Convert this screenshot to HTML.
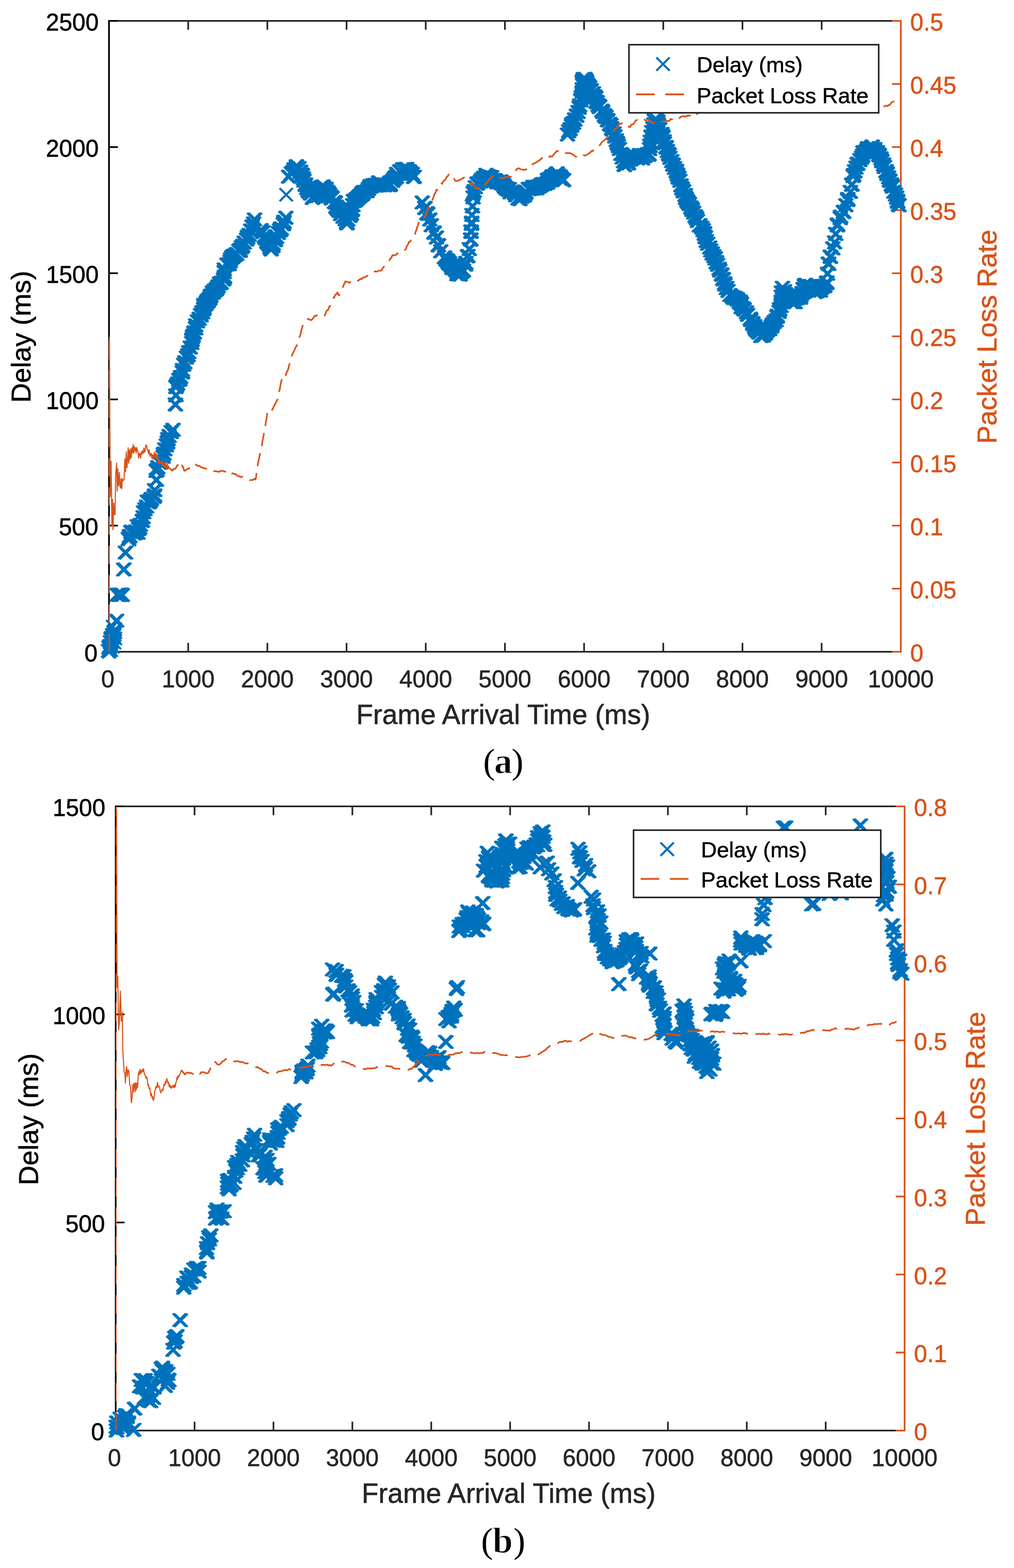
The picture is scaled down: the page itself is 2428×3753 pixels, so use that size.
<!DOCTYPE html>
<html lang="en"><head><meta charset="utf-8"><title>Delay and Packet Loss Rate vs Frame Arrival Time</title>
<style>html,body{margin:0;padding:0;background:#fff}svg{display:block}</style></head><body>
<svg width="2428" height="3753" viewBox="0 0 2428 3753">
<rect width="2428" height="3753" fill="#fff"/>
<defs>
<marker id="mx" viewBox="-20 -20 40 40" markerWidth="40" markerHeight="40" refX="0" refY="0" markerUnits="userSpaceOnUse" orient="0" overflow="visible"><path d="M-15.75 -15.75L15.75 15.75M-15.75 15.75L15.75 -15.75" stroke="#0072BD" stroke-width="5.2" fill="none"/></marker>
<clipPath id="clipa"><rect x="231" y="48.5" width="1956" height="1540"/></clipPath>
<clipPath id="clipb"><rect x="247" y="1928.5" width="1949" height="1524"/></clipPath>
</defs>
<g id="plot-a">
<path d="M259 50H2159M259 1560H2159" stroke="#262626" stroke-width="4" fill="none"/>
<path d="M450.6 1560v-21.2M450.6 50v21.2M640.2 1560v-21.2M640.2 50v21.2M829.8 1560v-21.2M829.8 50v21.2M1019.4 1560v-21.2M1019.4 50v21.2M1209 1560v-21.2M1209 50v21.2M1398.6 1560v-21.2M1398.6 50v21.2M1588.2 1560v-21.2M1588.2 50v21.2M1777.8 1560v-21.2M1777.8 50v21.2M1967.4 1560v-21.2M1967.4 50v21.2" stroke="#262626" stroke-width="4" fill="none"/>
<path d="M261 48V1562M261 1560h21.2M261 1258h21.2M261 956h21.2M261 654h21.2M261 352h21.2M261 50h21.2" stroke="#000" stroke-width="4" fill="none"/>
<path d="M2157 48V1562M2157 1560h-21.2M2157 1409h-21.2M2157 1258h-21.2M2157 1107h-21.2M2157 956h-21.2M2157 805h-21.2M2157 654h-21.2M2157 503h-21.2M2157 352h-21.2M2157 201h-21.2M2157 50h-21.2" stroke="#D95319" stroke-width="4" fill="none"/>
<g font-family="'Liberation Sans', Arial, Helvetica, sans-serif" font-size="56.8px" stroke-width="0.8" stroke-linejoin="round">
<g fill="#262626" stroke="#262626" text-anchor="middle">
<text x="258" y="1645">0</text>
<text x="450.6" y="1645">1000</text>
<text x="640.2" y="1645">2000</text>
<text x="829.8" y="1645">3000</text>
<text x="1019.4" y="1645">4000</text>
<text x="1209" y="1645">5000</text>
<text x="1398.6" y="1645">6000</text>
<text x="1588.2" y="1645">7000</text>
<text x="1777.8" y="1645">8000</text>
<text x="1967.4" y="1645">9000</text>
<text x="2157" y="1645">10000</text>
</g>
<g fill="#000" stroke="#000" text-anchor="end">
<text x="233.6" y="1583">0</text>
<text x="235.4" y="1281">500</text>
<text x="236.3" y="979">1000</text>
<text x="236.3" y="677">1500</text>
<text x="236.3" y="375">2000</text>
<text x="236.3" y="73">2500</text>
</g>
<g fill="#D95319" stroke="#D95319" text-anchor="start">
<text x="2179.6" y="1583">0</text>
<text x="2179.6" y="1432">0.05</text>
<text x="2179.6" y="1281">0.1</text>
<text x="2179.6" y="1130">0.15</text>
<text x="2179.6" y="979">0.2</text>
<text x="2179.6" y="828">0.25</text>
<text x="2179.6" y="677">0.3</text>
<text x="2179.6" y="526">0.35</text>
<text x="2179.6" y="375">0.4</text>
<text x="2179.6" y="224">0.45</text>
<text x="2179.6" y="73">0.5</text>
</g>
</g>
<g font-family="'Liberation Sans', Arial, Helvetica, sans-serif" font-size="66px" text-anchor="middle" stroke-width="0.8" stroke-linejoin="round">
<text x="1205" y="1733" fill="#262626" stroke="#262626">Frame Arrival Time (ms)</text>
<text transform="translate(73 806) rotate(-90)" font-size="65.4px" fill="#000" stroke="#000">Delay (ms)</text>
<text transform="translate(2386 806) rotate(-90)" font-size="65.4px" fill="#D95319" stroke="#D95319">Packet Loss Rate</text>
</g>
<g clip-path="url(#clipa)">
<polyline points="261,1560 258.2,1557.8 261.8,1557.8 260.8,1546.7 264.4,1546.7 259.3,1550.3 262.9,1550.3 262.6,1537 266.2,1537 265.1,1528 268.7,1528 265.1,1526.9 268.7,1526.9 270.7,1519.2 274.3,1519.2 269.3,1522.5 272.9,1522.5 271.2,1513.6 274.8,1513.6 272.2,1512.4 275.8,1512.4 305.6,1289.8 309.2,1289.8 306.4,1290.9 310,1290.9 308.9,1282.5 312.5,1282.5 308.2,1284.7 311.8,1284.7 311.6,1273.3 315.2,1273.3 313,1272.5 316.6,1272.5 319.7,1276.9 323.3,1276.9 322.9,1272 326.5,1272 323.3,1274.7 326.9,1274.7 328.5,1275.1 332.1,1275.1 327,1259.3 330.6,1259.3 330.3,1266.7 333.9,1266.7 332.4,1263 336,1263 332.3,1262.4 335.9,1262.4 334.3,1256.2 337.9,1256.2 339.5,1246.2 343.1,1246.2 338.8,1247 342.4,1247 341,1237.9 344.6,1237.9 342.1,1226.1 345.7,1226.1 345.3,1218.8 348.9,1218.8 349.1,1212.3 352.7,1212.3 351,1200.6 354.6,1200.6 354.8,1202.5 358.4,1202.5 356.5,1201.4 360.1,1201.4 358.8,1197.5 362.4,1197.5 360.7,1194.1 364.3,1194.1 367.5,1189.2 371.1,1189.2 368.5,1185.7 372.1,1185.7 368.6,1173.2 372.2,1173.2 374.2,1124.8 377.8,1124.8 372.1,1127.2 375.7,1127.2 376.1,1118.4 379.7,1118.4 380.9,1107.9 384.5,1107.9 383.1,1103.3 386.7,1103.3 388.7,1093.5 392.3,1093.5 390.8,1085.5 394.4,1085.5 389.4,1088 393,1088 392.9,1075.5 396.5,1075.5 396.5,1066.1 400.1,1066.1 398.7,1059.8 402.3,1059.8 399.6,1057.8 403.2,1057.8 400.7,1050.9 404.3,1050.9 399.8,1051.2 403.4,1051.2 403,1043.7 406.6,1043.7 408.1,1034.2 411.7,1034.2 412.6,1028.7 416.2,1028.7 419.2,926.5 422.8,926.5 421.1,922.6 424.7,922.6 423.6,917.9 427.2,917.9 426.4,909.6 430,909.6 428.9,907.3 432.5,907.3 430.8,902.1 434.4,902.1 434.7,891.5 438.3,891.5 435.3,891 438.9,891 435,885.5 438.6,885.5 438.1,872.8 441.7,872.8 440.7,867.1 444.3,867.1 444.5,855.8 448.1,855.8 448.8,850 452.4,850 447.9,850.4 451.5,850.4 450.1,842.9 453.7,842.9 453.8,831.8 457.4,831.8 457.3,820.8 460.9,820.8 457.5,814.9 461.1,814.9 457.8,812.5 461.4,812.5 461,803 464.6,803 459,806.8 462.6,806.8 463.5,795.6 467.1,795.6 462.3,796.7 465.9,796.7 466.3,785.3 469.9,785.3 466.5,786.2 470.1,786.2 466.8,778.7 470.4,778.7 471,769.2 474.6,769.2 475.2,762.8 478.8,762.8 478.5,753.9 482.1,753.9 479.9,754.9 483.5,754.9 481.4,747.6 485,747.6 483.2,747.4 486.8,747.4 486.9,736.9 490.5,736.9 485.8,740.7 489.4,740.7 486.7,732.3 490.3,732.3 486.3,729.8 489.9,729.8 491.3,727.8 494.9,727.8 492.2,724.4 495.8,724.4 496.2,721.2 499.8,721.2 494.3,720.2 497.9,720.2 500.6,714.3 504.2,714.3 497.8,717.3 501.4,717.3 501.5,710 505.1,710 503.2,707.1 506.8,707.1 506.7,700.4 510.3,700.4 507.9,700.7 511.5,700.7 511.5,696.3 515.1,696.3 511.5,695.7 515.1,695.7 517.5,690.2 521.1,690.2 516.1,692.7 519.7,692.7 520.5,685.3 524.1,685.3 523.8,678.9 527.4,678.9 527.8,676.6 531.4,676.6 533.4,668.8 537,668.8 535.4,664.6 539,664.6 535.8,661.9 539.4,661.9 534.9,651.2 538.5,651.2 535.1,644.9 538.7,644.9 541.7,633.1 545.3,633.1 546.8,632.4 550.4,632.4 549.2,626.2 552.8,626.2 550.3,620.7 553.9,620.7 553.2,615.4 556.8,615.4 555.4,615.7 559,615.7 556.5,612.7 560.1,612.7 560.2,611.2 563.8,611.2 565.1,607.9 568.7,607.9 570.2,600.3 573.8,600.3 572.8,597.8 576.4,597.8 573.2,600.5 576.8,600.5 576.2,592.1 579.8,592.1 579.6,588.3 583.2,588.3 582.9,580.7 586.5,580.7 588.5,573.5 592.1,573.5 591.3,568.9 594.9,568.9 590.7,566.9 594.3,566.9 594.7,562 598.3,562 598.6,551.8 602.2,551.8 598.9,551.9 602.5,551.9 602,541.9 605.6,541.9 602,542.3 605.6,542.3 605.5,534.9 609.1,534.9 607.8,525.4 611.4,525.4 623.3,550.6 626.9,550.6 627.9,555.7 631.5,555.7 631.3,565.3 634.9,565.3 633.7,569.3 637.3,569.3 634.3,570.9 637.9,570.9 637.5,576.5 641.1,576.5 637.3,579.3 640.9,579.3 641.2,583.3 644.8,583.3 643.7,586.3 647.3,586.3 646.9,594.7 650.5,594.7 644.5,592 648.1,592 647.2,597.2 650.8,597.2 651.1,589.4 654.7,589.4 651.5,588.4 655.1,588.4 652.4,583.4 656,583.4 651.8,583.7 655.4,583.7 657.2,575.1 660.8,575.1 657.6,572.6 661.2,572.6 660.5,567 664.1,567 664.7,557.5 668.3,557.5 669.2,551.5 672.8,551.5 667.7,551.1 671.3,551.1 670.2,546.9 673.8,546.9 671.8,547.6 675.4,547.6 676.6,536.9 680.2,536.9 678.1,530.5 681.7,530.5 678,532.7 681.6,532.7 682.7,521.2 686.3,521.2 689.3,422.9 692.9,422.9 695.9,415 699.5,415 699,412.3 702.6,412.3 700.4,410.5 704,410.5 703.6,405.1 707.2,405.1 702.4,405 706,405 708.2,400 711.8,400 708.1,397.7 711.7,397.7 714,402.3 717.6,402.3 717.7,410.5 721.3,410.5 717.8,412.1 721.4,412.1 721.3,417.9 724.9,417.9 722.1,420.6 725.7,420.6 724.9,427 728.5,427 726.2,432.3 729.8,432.3 729.3,440.9 732.9,440.9 729.6,443.1 733.2,443.1 732.7,450.2 736.3,450.2 733.7,450.8 737.3,450.8 739.3,459.7 742.9,459.7 736.1,456.6 739.7,456.6 742.1,463.4 745.7,463.4 746.4,473.8 750,473.8 748,470.8 751.6,470.8 751.7,470.1 755.3,470.1 752.6,469.3 756.2,469.3 757.9,469.4 761.5,469.4 756.8,468 760.4,468 760.7,466.2 764.3,466.2 758.4,465.8 762,465.8 760.2,463.7 763.8,463.7 765.5,460.9 769.1,460.9 766.7,459.4 770.3,459.4 767.8,447.8 771.4,447.8 769.2,452.9 772.8,452.9 774.3,449.9 777.9,449.9 771.6,446 775.2,446 779.2,452 782.8,452 781.5,458.4 785.1,458.4 783.6,460.9 787.2,460.9 787,464.8 790.6,464.8 790.5,470.1 794.1,470.1 790.9,472.5 794.5,472.5 793.3,473.7 796.9,473.7 791.9,475.2 795.5,475.2 799.1,483.3 802.7,483.3 801.4,485.2 805,485.2 803,496.1 806.6,496.1 802.6,494.2 806.2,494.2 805.9,498.1 809.5,498.1 806.6,500.4 810.2,500.4 809.3,503.3 812.9,503.3 811.6,505.1 815.2,505.1 813.8,512.4 817.4,512.4 819.5,519 823.1,519 824.7,524.9 828.3,524.9 828,531.3 831.6,531.3 829.4,534.1 833,534.1 828.5,534.5 832.1,534.5 830.8,525.9 834.4,525.9 830.6,525.4 834.2,525.4 835.9,517 839.5,517 839.4,510.7 843,510.7 838.8,512.6 842.4,512.6 842.2,500.8 845.8,500.8 840.9,503.6 844.5,503.6 843.1,490.8 846.7,490.8 843,491.1 846.6,491.1 845.2,480.6 848.8,480.6 844.6,481.4 848.2,481.4 847.9,480.3 851.5,480.3 851.6,476.7 855.2,476.7 852.1,476.3 855.7,476.3 856.3,472.3 859.9,472.3 863.1,466.6 866.7,466.6 860,468.8 863.6,468.8 864.8,463.2 868.4,463.2 866.2,464.4 869.8,464.4 868.3,459.6 871.9,459.6 868.6,459.8 872.2,459.8 877.1,457.6 880.7,457.6 880.2,452.3 883.8,452.3 883.4,447.5 887,447.5 885.2,445 888.8,445 887.2,446.2 890.8,446.2 891.3,443.1 894.9,443.1 898.3,444.4 901.9,444.4 896.2,442.3 899.8,442.3 902.5,443.2 906.1,443.2 902.5,442.7 906.1,442.7 904.7,436.6 908.3,436.6 909.9,442.1 913.5,442.1 909,440.2 912.6,440.2 906.4,436.9 910,436.9 909.6,443.4 913.2,443.4 907.3,441.6 910.9,441.6 915.4,441 919,441 918.5,443.6 922.1,443.6 919.1,443.2 922.7,443.2 920.3,441.8 923.9,441.8 928.7,443.1 932.3,443.1 932,443.2 935.6,443.2 932.8,440.7 936.4,440.7 932.7,440.6 936.3,440.6 938.3,432.8 941.9,432.8 941.7,428.2 945.3,428.2 943.5,426 947.1,426 947,422.9 950.6,422.9 946.9,423.3 950.5,423.3 947.9,416.1 951.5,416.1 955.7,410.3 959.3,410.3 955.8,409.7 959.4,409.7 962.4,404.8 966,404.8 967.6,404.5 971.2,404.5 972.1,404.2 975.7,404.2 971.7,408.1 975.3,408.1 977.8,409.3 981.4,409.3 975.6,411.6 979.2,411.6 980,412.4 983.6,412.4 981.6,415.7 985.2,415.7 985.5,416.1 989.1,416.1 988.5,423.9 992.1,423.9 990.1,423 993.7,423 1009.4,484.6 1013,484.6 1015.6,498.1 1019.2,498.1 1015.5,497.7 1019.1,497.7 1020.5,510.2 1024.1,510.2 1022.5,512.1 1026.1,512.1 1027.5,525.4 1031.1,525.4 1030.9,539.2 1034.5,539.2 1037.6,557.3 1041.2,557.3 1037.4,556.1 1041,556.1 1043.3,568.3 1046.9,568.3 1047.5,586.7 1051.1,586.7 1048.3,587.3 1051.9,587.3 1053.7,601.5 1057.3,601.5 1062.4,615.9 1066,615.9 1065.9,621.2 1069.5,621.2 1069.8,623.9 1073.4,623.9 1071.1,627.4 1074.7,627.4 1071.6,627.2 1075.2,627.2 1073.4,631.2 1077,631.2 1074.6,629.8 1078.2,629.8 1080.8,638.4 1084.4,638.4 1078.4,635.3 1082,635.3 1080.6,641.1 1084.2,641.1 1082.5,641.6 1086.1,641.6 1088.9,646.1 1092.5,646.1 1092.6,651.5 1096.2,651.5 1092.4,656.5 1096,656.5 1096.1,656 1099.7,656 1099.9,657.3 1103.5,657.3 1102.9,651.5 1106.5,651.5 1102.1,651.5 1105.7,651.5 1107,647.6 1110.6,647.6 1108,647.4 1111.6,647.4 1113,633.6 1116.6,633.6 1113.7,629.2 1117.3,629.2 1118.6,612.6 1122.2,612.6 1117.6,613.6 1121.2,613.6 1122,596.2 1125.6,596.2 1125.4,572.8 1129,572.8 1125.4,573.6 1129,573.6 1126,553.8 1129.6,553.8 1126.4,555.1 1130,555.1 1127.3,535.8 1130.9,535.8 1127.6,532.8 1131.2,532.8 1128.2,514.5 1131.8,514.5 1129.6,493.9 1133.2,493.9 1131.2,472.5 1134.8,472.5 1131.1,462.1 1134.7,462.1 1133.7,457 1137.3,457 1136.3,448 1139.9,448 1141.8,438.6 1145.4,438.6 1140.5,439.9 1144.1,439.9 1148.8,434.3 1152.4,434.3 1151.8,429.7 1155.4,429.7 1157.6,430.2 1161.2,430.2 1156.5,425 1160.1,425 1160.1,428 1163.7,428 1163.8,424.7 1167.4,424.7 1163.1,423 1166.7,423 1163,421.9 1166.6,421.9 1162,418.3 1165.6,418.3 1167.1,421.6 1170.7,421.6 1165.2,425.3 1168.8,425.3 1171.1,423.4 1174.7,423.4 1169.9,422.8 1173.5,422.8 1175.5,423.9 1179.1,423.9 1177.5,431.1 1181.1,431.1 1182.9,430.8 1186.5,430.8 1181.4,432 1185,432 1186,433.6 1189.6,433.6 1188.4,436.4 1192,436.4 1190.4,435.6 1194,435.6 1197.3,433.9 1200.9,433.9 1194.4,435.8 1198,435.8 1198.9,438.7 1202.5,438.7 1200.4,438.8 1204,438.8 1202.9,438.4 1206.5,438.4 1204.5,443.4 1208.1,443.4 1206.7,447.4 1210.3,447.4 1210.2,450.8 1213.8,450.8 1216.2,454.1 1219.8,454.1 1212.4,451.3 1216,451.3 1215.7,454.4 1219.3,454.4 1217.5,452.3 1221.1,452.3 1219.6,460.5 1223.2,460.5 1225.7,458 1229.3,458 1230.5,462.7 1234.1,462.7 1233.2,467.6 1236.8,467.6 1239.1,475.2 1242.7,475.2 1238.8,474.8 1242.4,474.8 1243.2,476.9 1246.8,476.9 1247.1,471.5 1250.7,471.5 1252.9,468.3 1256.5,468.3 1253.6,467.5 1257.2,467.5 1254.3,465.2 1257.9,465.2 1256.5,462 1260.1,462 1257.3,459.7 1260.9,459.7 1257.3,459 1260.9,459 1265.1,452.4 1268.7,452.4 1263.4,452.1 1267,452.1 1266.6,452.1 1270.2,452.1 1269.6,451.8 1273.2,451.8 1275.3,451.5 1278.9,451.5 1274.3,447.2 1277.9,447.2 1277.4,448 1281,448 1280.3,447.3 1283.9,447.3 1283.6,450.9 1287.2,450.9 1287.1,446 1290.7,446 1289.7,446.1 1293.3,446.1 1294.8,441.7 1298.4,441.7 1294.1,443.2 1297.7,443.2 1298.8,440.3 1302.4,440.3 1302.3,440.5 1305.9,440.5 1309.1,437.6 1312.7,437.6 1309,430.7 1312.6,430.7 1312.8,429.7 1316.4,429.7 1311.9,432.6 1315.5,432.6 1313.2,428.3 1316.8,428.3 1319,429.6 1322.6,429.6 1322.2,425.7 1325.8,425.7 1318.8,424.4 1322.4,424.4 1326.3,424.2 1329.9,424.2 1320.5,421.9 1324.1,421.9 1329.1,421.1 1332.7,421.1 1328.4,418.3 1332,418.3 1332.1,414.6 1335.7,414.6 1335.1,419.5 1338.7,419.5 1339.6,422.7 1343.2,422.7 1339,426.1 1342.6,426.1 1341,428.3 1344.6,428.3 1342.2,426.3 1345.8,426.3 1347,431.4 1350.6,431.4 1347.8,430.7 1351.4,430.7 1357,322 1360.6,322 1359.9,314.1 1363.5,314.1 1363.5,308.9 1367.1,308.9 1367.1,297.4 1370.7,297.4 1366.6,301.4 1370.2,301.4 1371.6,293.9 1375.2,293.9 1374.6,286.6 1378.2,286.6 1374.4,285.5 1378,285.5 1378.5,276.9 1382.1,276.9 1379.3,276.8 1382.9,276.8 1382.3,268.1 1385.9,268.1 1384.8,258 1388.4,258 1386.1,252.3 1389.7,252.3 1388.4,240.1 1392,240.1 1389.1,239.8 1392.7,239.8 1392,230.6 1395.6,230.6 1389.8,233.3 1393.4,233.3 1392.7,220 1396.3,220 1392.3,213.3 1395.9,213.3 1393.3,199.8 1396.9,199.8 1393.4,204.1 1397,204.1 1394.4,193.7 1398,193.7 1394.1,192.3 1397.7,192.3 1398,190.5 1401.6,190.5 1398.1,190.3 1401.7,190.3 1403.1,196.7 1406.7,196.7 1403,199.9 1406.6,199.9 1407.8,205.8 1411.4,205.8 1405.4,202.9 1409,202.9 1410.4,209.3 1414,209.3 1414,215.9 1417.6,215.9 1418.9,223.2 1422.5,223.2 1418.7,223.5 1422.3,223.5 1422.9,231.8 1426.5,231.8 1421.8,230.1 1425.4,230.1 1425.1,234.5 1428.7,234.5 1428.2,244.7 1431.8,244.7 1425.5,243.1 1429.1,243.1 1430.3,251.4 1433.9,251.4 1434.1,254.6 1437.7,254.6 1433,256.4 1436.6,256.4 1439.5,264.6 1443.1,264.6 1441.5,268.4 1445.1,268.4 1447,277.8 1450.6,277.8 1445.5,275.3 1449.1,275.3 1449.4,280.2 1453,280.2 1452.7,287.2 1456.3,287.2 1454,288.3 1457.6,288.3 1458.4,297.9 1462,297.9 1458.1,296.4 1461.7,296.4 1461.2,299.5 1464.8,299.5 1464.1,310 1467.7,310 1462.8,306.8 1466.4,306.8 1468.5,319.3 1472.1,319.3 1470.8,326.5 1474.4,326.5 1470.2,326.7 1473.8,326.7 1473.8,335.7 1477.4,335.7 1477,343.8 1480.6,343.8 1475.9,341.6 1479.5,341.6 1478.9,349.7 1482.5,349.7 1481.4,356.5 1485,356.5 1485,368.7 1488.6,368.7 1488.1,377 1491.7,377 1491.5,386.1 1495.1,386.1 1492.7,394.2 1496.3,394.2 1493.5,395.2 1497.1,395.2 1502,391.1 1505.6,391.1 1501.3,387.6 1504.9,387.6 1503.1,390.6 1506.7,390.6 1506.4,381.6 1510,381.6 1508.2,381.6 1511.8,381.6 1509.8,378.8 1513.4,378.8 1514.3,378.3 1517.9,378.3 1516.8,372 1520.4,372 1524.2,377.8 1527.8,377.8 1525.1,379.1 1528.7,379.1 1528.9,373.5 1532.5,373.5 1529.6,370.8 1533.2,370.8 1532.9,374 1536.5,374 1536.9,379.5 1540.5,379.5 1539.1,371.2 1542.7,371.2 1538.5,371.8 1542.1,371.8 1542.2,373.7 1545.8,373.7 1548.7,368.9 1552.3,368.9 1551.4,370.7 1555,370.7 1552.4,368.8 1556,368.8 1553.5,356.8 1557.1,356.8 1554.9,349.9 1558.5,349.9 1554.3,348.4 1557.9,348.4 1555.4,339.2 1559,339.2 1557.3,327.9 1560.9,327.9 1557.3,326.7 1560.9,326.7 1560.1,316.4 1563.7,316.4 1559,316 1562.6,316 1561.5,306.9 1565.1,306.9 1563.7,297.7 1567.3,297.7 1564.1,297.5 1567.7,297.5 1565.5,288.6 1569.1,288.6 1565.2,289.1 1568.8,289.1 1571.7,293.6 1575.3,293.6 1569.6,292.8 1573.2,292.8 1573.8,296.2 1577.4,296.2 1575.4,300.7 1579,300.7 1578.2,308.8 1581.8,308.8 1583.2,320.5 1586.8,320.5 1585.8,329 1589.4,329 1585,325.9 1588.6,325.9 1588.3,337.8 1591.9,337.8 1589,342.9 1592.6,342.9 1593.2,351.7 1596.8,351.7 1593.5,353.5 1597.1,353.5 1596.3,361.4 1599.9,361.4 1600.6,370.6 1604.2,370.6 1598.7,368 1602.3,368 1602.3,377.7 1605.9,377.7 1606.7,385.6 1610.3,385.6 1609,393.5 1612.6,393.5 1610.5,394.5 1614.1,394.5 1613.3,402 1616.9,402 1617.7,410.9 1621.3,410.9 1618,408.3 1621.6,408.3 1621,418.3 1624.6,418.3 1619.7,417 1623.3,417 1623.9,426 1627.5,426 1622,424 1625.6,424 1626.3,432.6 1629.9,432.6 1628.7,443.6 1632.3,443.6 1629.3,444 1632.9,444 1630.8,450.5 1634.4,450.5 1632,451.5 1635.6,451.5 1635,458.2 1638.6,458.2 1634.2,457.2 1637.8,457.2 1638.6,466.6 1642.2,466.6 1639.3,467.4 1642.9,467.4 1641.2,475.1 1644.8,475.1 1639.8,473.1 1643.4,473.1 1643.1,479.8 1646.7,479.8 1644.4,482.8 1648,482.8 1649,488.6 1652.6,488.6 1647.5,485.8 1651.1,485.8 1652.4,496.1 1656,496.1 1655.7,502.8 1659.3,502.8 1655.3,500.3 1658.9,500.3 1659.2,508.9 1662.8,508.9 1662.5,517.2 1666.1,517.2 1665.5,521.3 1669.1,521.3 1666.6,523.2 1670.2,523.2 1668.3,529 1671.9,529 1674.1,538.8 1677.7,538.8 1672.9,539.9 1676.5,539.9 1678.9,544.8 1682.5,544.8 1681.9,550.8 1685.5,550.8 1682.1,551.1 1685.7,551.1 1684.9,560 1688.5,560 1685.1,557.8 1688.7,557.8 1686.5,566.9 1690.1,566.9 1687.5,568.5 1691.1,568.5 1689.5,576.8 1693.1,576.8 1692.7,583.4 1696.3,583.4 1697.6,592.4 1701.2,592.4 1700.1,599.5 1703.7,599.5 1703.6,607.1 1707.2,607.1 1703.7,606.4 1707.3,606.4 1707.6,613 1711.2,613 1710.7,619 1714.3,619 1711.1,618.2 1714.7,618.2 1713,627.8 1716.6,627.8 1714,627.3 1717.6,627.3 1716.5,633.9 1720.1,633.9 1720.2,643.2 1723.8,643.2 1721.8,647.9 1725.4,647.9 1725.7,656.3 1729.3,656.3 1726.6,657.8 1730.2,657.8 1730.2,668.9 1733.8,668.9 1729.1,667.2 1732.7,667.2 1733.2,677.9 1736.8,677.9 1734.3,681.5 1737.9,681.5 1737.7,689.6 1741.3,689.6 1738.5,689.3 1742.1,689.3 1741.4,696.5 1745,696.5 1746.1,706.1 1749.7,706.1 1751.8,710.1 1755.4,710.1 1754.8,713.3 1758.4,713.3 1758.1,712.7 1761.7,712.7 1763.4,715.6 1767,715.6 1764.2,717.3 1767.8,717.3 1768.4,723.4 1772,723.4 1770.4,721.7 1774,721.7 1773.6,727.8 1777.2,727.8 1772.8,725.6 1776.4,725.6 1773.1,735.3 1776.7,735.3 1778.3,738.2 1781.9,738.2 1780.3,741.2 1783.9,741.2 1785.6,747.7 1789.2,747.7 1788.2,753.7 1791.8,753.7 1794.8,762.8 1798.4,762.8 1796.2,766.3 1799.8,766.3 1801,775.3 1804.6,775.3 1800.5,773.2 1804.1,773.2 1804.8,780.5 1808.4,780.5 1805.2,780.7 1808.8,780.7 1808.3,788.8 1811.9,788.8 1806.2,785 1809.8,785 1812.3,792 1815.9,792 1810.7,791 1814.3,791 1815.5,796.3 1819.1,796.3 1820,804.3 1823.6,804.3 1826.7,799.6 1830.3,799.6 1825.7,803.4 1829.3,803.4 1831.4,797.5 1835,797.5 1829.9,798.9 1833.5,798.9 1834.4,791.5 1838,791.5 1834.1,792.3 1837.7,792.3 1837.5,788.7 1841.1,788.7 1840.2,786.8 1843.8,786.8 1841.3,787.8 1844.9,787.8 1845.7,780.8 1849.3,780.8 1845.4,781.8 1849,781.8 1847.6,776.1 1851.2,776.1 1851.8,770.9 1855.4,770.9 1856.7,766.5 1860.3,766.5 1859.7,755.6 1863.3,755.6 1858.8,758.5 1862.4,758.5 1863.7,746.4 1867.3,746.4 1865.4,740.6 1869,740.6 1864.8,739.9 1868.4,739.9 1868.3,732.3 1871.9,732.3 1868.7,722.4 1872.3,722.4 1868.8,722.3 1872.4,722.3 1868.8,709.8 1872.4,709.8 1869.2,700.1 1872.8,700.1 1871.9,688.8 1875.5,688.8 1876.8,696.9 1880.4,696.9 1878.7,703.6 1882.3,703.6 1881.1,707.1 1884.7,707.1 1883.2,713.8 1886.8,713.8 1893.5,722.6 1897.1,722.6 1895,723.2 1898.6,723.2 1902.1,723.5 1905.7,723.5 1901.9,715.2 1905.5,715.2 1906.8,714 1910.4,714 1910.1,709.9 1913.7,709.9 1914.9,712.6 1918.5,712.6 1916.3,706.8 1919.9,706.8 1919,701.3 1922.6,701.3 1921.6,691.2 1925.2,691.2 1922.3,693.4 1925.9,693.4 1924.2,684.5 1927.8,684.5 1925.3,682 1928.9,682 1927.7,681.8 1931.3,681.8 1929.2,685.2 1932.8,685.2 1936.2,685.4 1939.8,685.4 1938.7,684.4 1942.3,684.4 1938.5,685 1942.1,685 1941,689.5 1944.6,689.5 1945.6,691.3 1949.2,691.3 1944.6,693.6 1948.2,693.6 1950.1,699.1 1953.7,699.1 1952.1,697.2 1955.7,697.2 1954.9,696.7 1958.5,696.7 1962.6,695.7 1966.2,695.7 1959.5,693.2 1963.1,693.2 1964.8,689.1 1968.4,689.1 1964.1,689.2 1967.7,689.2 1971.1,685.3 1974.7,685.3 1973.3,684.4 1976.9,684.4 1977.2,678.1 1980.8,678.1 1978.3,675.8 1981.9,675.8 1979.7,655.1 1983.3,655.1 1981.7,630.7 1985.3,630.7 1982.3,631.8 1985.9,631.8 1986.3,614.2 1989.9,614.2 1986.9,614.9 1990.5,614.9 1992.3,594.3 1995.9,594.3 1996.7,580.2 2000.3,580.2 1999.3,559.8 2002.9,559.8 2003.6,539.6 2007.2,539.6 2003.8,537.2 2007.4,537.2 2010.2,522.2 2013.8,522.2 2011.1,518.3 2014.7,518.3 2018.3,506.7 2021.9,506.7 2017.9,507.7 2021.5,507.7 2023.6,491.1 2027.2,491.1 2028.3,476 2031.9,476 2028,479 2031.6,479 2034.4,459.3 2038,459.3 2038.2,441.4 2041.8,441.4 2037.5,442.3 2041.1,442.3 2041,421.4 2044.6,421.4 2042.5,418.4 2046.1,418.4 2044.5,409.6 2048.1,409.6 2045.3,410.4 2048.9,410.4 2047.8,401.1 2051.4,401.1 2052.5,391.7 2056.1,391.7 2050.5,392.8 2054.1,392.8 2057.3,383.1 2060.9,383.1 2061.3,377.3 2064.9,377.3 2064,372.4 2067.6,372.4 2064.1,372 2067.7,372 2065.9,364.1 2069.5,364.1 2064.5,364.9 2068.1,364.9 2073.2,360.8 2076.8,360.8 2075.2,357.5 2078.8,357.5 2078.2,355.8 2081.8,355.8 2075.7,354.7 2079.3,354.7 2083.6,355.1 2087.2,355.1 2086.3,351.2 2089.9,351.2 2086.8,350.5 2090.4,350.5 2092.6,356.6 2096.2,356.6 2089.6,357.4 2093.2,357.4 2092.4,360.7 2096,360.7 2099,363.8 2102.6,363.8 2103.8,372.4 2107.4,372.4 2102.6,369.3 2106.2,369.3 2107.7,378.9 2111.3,378.9 2109.9,386.4 2113.5,386.4 2109.5,384.5 2113.1,384.5 2113.9,393.7 2117.5,393.7 2116.1,399.5 2119.7,399.5 2115.4,399.5 2119,399.5 2120.4,409.9 2124,409.9 2119.5,409.7 2123.1,409.7 2122.4,416.9 2126,416.9 2122.4,415.1 2126,415.1 2126,424.7 2129.6,424.7 2129.2,432.9 2132.8,432.9 2127.8,431.5 2131.4,431.5 2133.6,443.4 2137.2,443.4 2132.6,441.2 2136.2,441.2 2135.3,446.8 2138.9,446.8 2138.6,458.8 2142.2,458.8 2142.6,465.9 2146.2,465.9 2145,472.8 2148.6,472.8 2145.2,473.1 2148.8,473.1 2147.3,480.5 2150.9,480.5 2147.6,483.1 2151.2,483.1 2149.7,489.8 2153.3,489.8 2150.8,491.4 2154.4,491.4 277,1486 281,1485.4 278.9,1423.6 282.9,1424.2 282,1423.6 286,1423 284.8,1423.6 288.8,1424.2 287.9,1423.6 291.9,1423 290.6,1423.6 294.6,1424.2 294.5,1363.2 298.5,1362.6 298.4,1322.3 302.4,1322.9 372.4,1149 376.4,1148.4 418,967.8 422,968.4 419.2,946.4 423.2,945.8 1395,189 1399,189.6 1398,189 1402,188.4 1401,192 1405,192.6 1392,196 1396,195.4 1565,288 1569,288.6 1569,288 1573,287.4 1573,290 1577,290.6 685.3,466 262,1552 264,1546 266,1540 268,1533 270,1527 272,1521 266,1556 270,1548 274,1538 276,1528 264,1530 268,1520 272,1512 276,1506 270,1500" fill="none" stroke="none" marker-start="url(#mx)" marker-mid="url(#mx)" marker-end="url(#mx)"/>
</g>
<polyline points="261.6,1560 261.6,806" fill="none" stroke="#D95319" stroke-width="3.0" stroke-linejoin="round" stroke-dasharray="44 26"/>
<polyline points="262,806 262.5,900 263,1000 263.5,1085 264,1188.6 266,1104.4 268,1259.2 269.3,1195.5 270.6,1268 272.3,1204 274,1231.4 275.5,1231.5 277,1135.5 279.3,1108.5 280.6,1175.1 282,1122.3 283.9,1162.6 285.9,1130.9 287.3,1163.9 288.6,1167.8 290,1145.9 291.5,1169.9 293.1,1146 294.6,1150.4 297,1148.3 299,1098.5 300.7,1129.5 302.3,1081.7 304,1119.4 305.5,1102.3 306.9,1071.7 308.4,1108.5 309.9,1077.1 311.4,1099.3 312.9,1074.4 314.5,1095.6 316,1071.6 317.4,1083.2 318.8,1064.4 320.2,1085 321.6,1068.8 323,1079.2 324.5,1071.6 326,1084.4 327.5,1071.2 329,1078.5 330.5,1080.9 332,1096.6 333.5,1085.1 335,1086.1 336.7,1096.6 338.3,1081.6 340,1087.3 341.6,1078.4 343.2,1085 344.8,1072.2 346.3,1082.2 347.8,1078.3 349.4,1064.7 350.9,1065.8 352.4,1075.5 353.9,1077 355.5,1085.6 357,1076.4 358.3,1088.2 359.6,1092.3 361,1085.2 362.3,1085.6 363.7,1097.3 365.1,1088.8 366.6,1098.9 368,1098.7 369.7,1082.8 371.5,1093.9 373.2,1084.2 374.6,1096.8 376.1,1089.4 377.6,1103.1 379,1108.9 380.7,1097.9 382.4,1110.2 384.1,1107.5 385.6,1104.4 387.1,1107.5 388.5,1114.6 390,1106.1 391.4,1107.5 392.9,1116.9 394.3,1117.5 395.8,1104.8 397.2,1107.4 398.5,1120.5 399.8,1119.3 401.1,1110.6 402.4,1122.5 403.7,1115.5 405,1121" fill="none" stroke="#D95319" stroke-width="2.6" stroke-linejoin="round"/>
<polyline points="405,1120.4 408.5,1122.2 412,1126.5 416,1122.5 420,1122.1 422,1118.5 424,1114.4 426,1113 428,1108.3 431,1108.5 434,1106 435.2,1109.1 436.3,1113.4 437.5,1117.9 438.7,1118.5 439.8,1121.9 441,1126.5 444,1126.3 447,1123.6 450,1121.6 452.5,1122 455,1116.9 457.5,1118 460,1114.2 463.3,1113.1 466.7,1112.3 470,1112.3 473.3,1115.5 476.7,1114.5 480,1117.3 483.2,1119 486.5,1119.5 489.8,1121.7 493,1121.4 496.5,1122.2 500,1123.4 503.5,1125.9 507,1125.7 510.2,1126.1 513.5,1127.8 516.8,1128.1 520,1128.3 523,1129.6 526,1128.7 529,1126.6 532,1127.3 535,1127.3 538,1128.9 541,1128.6 544,1127.2 546.8,1130.9 549.6,1129 552.4,1131.3 555.2,1133.7 558,1132.7 561.2,1135.2 564.5,1134.8 567.8,1138.4 571,1140 574,1140.1 577,1142 580,1140.7 583,1142.9 586,1143.3 589.2,1144.5 592.4,1145.2 595.6,1147.8 598.8,1149.4 602,1148.9 605.3,1148.9 608.7,1146.1 612,1147.7 612.5,1144.4 613,1142.5 613.5,1138.8 614,1133.7 614.5,1131 615,1128.9 615.5,1123.4 616,1121.9 616.5,1117.3 617,1113.6 617.5,1109.9 618,1109 618.7,1103.5 619.3,1100.8 620,1098.1 620.7,1096.7 621.3,1090.7 622,1088.8 622.7,1086 623.3,1084 624,1080.6 624.7,1077.6 625.3,1072.4 626,1069.7 626.6,1066.4 627.2,1065.2 627.7,1062.4 628.3,1056.4 628.9,1053.4 629.5,1050.6 630,1047.5 630.6,1045.3 631.2,1042.6 631.8,1038.4 632.3,1034.4 632.9,1032.8 633.5,1029.5 634,1027.1 634.5,1025.4 635,1021.3 635.5,1017.5 636,1014.8 636.5,1011.8 637,1006.5 637.5,1006.4 638,1002.8 638.5,1000 639,996.6 639.5,992 640,988.9 640.5,984.7 641,983.5 645,983.4 649,985.4 650.6,983 652.2,979.8 653.8,977.4 655.4,973.4 657,970.2 658.5,967.5 660,964.2 661.6,961.9 663.1,957.5 664.6,957.3 665.3,953.2 666,948.2 666.6,945.4 667.3,942.5 668,939.3 668.6,935.1 669.3,934.5 670,931.8 670.7,926.7 671.3,923.6 672,919 672.7,915.9 673.3,913.6 674,910.2 674.7,909 675.3,903.4 676,899.8 680,902.2 684,899.7 685,895.4 686,893.9 687,889.1 688,888 689,886.7 690,883.3 691,879.7 692,875.1 693,872.5 694,868.8 694.8,867.7 695.6,863.5 696.4,861.1 697.3,856.2 698.1,852.6 698.9,851.4 699.7,848.7 701.3,845.3 702.9,842.1 704.4,839.1 706,835.9 707.8,831.2 709.5,829.4 711.2,825.9 713,821.9 713.8,819 714.5,816.9 715.2,813.9 716,812.5 716.8,810.5 717.5,805.7 718.2,804.5 719,801.8 719.9,798.6 720.8,793.5 721.7,790 722.6,787 723.4,783.9 724.3,780.9 725.2,779.4 726.1,777.4 727,774.2 729.3,770.9 731.6,769.6 734,768.1 736.3,763.5 738.6,763.6 742.3,765.5 746,766 748.7,763.2 751.3,759.6 754,755.8 757.3,756.2 760.7,752.7 764,752.6 767.4,753.7 770.8,752.1 774.2,752.6 777.6,755.1 779.2,751.7 780.7,747.1 782.3,744.4 783.9,741.9 785.4,742 787,739.1 788.6,733.5 790.2,732.8 791.8,730.1 793.4,725.8 795,721.5 796.3,719.3 797.7,715 799,711.8 800.3,712.4 801.7,708.4 803,705.1 805.5,704.1 808,699.8 810,704.3 812,707.2 813.6,701.8 815.2,698.7 816.8,695.7 818.4,692.3 820,690.3 821.3,685.9 822.7,683.3 824,679.1 825.4,678.7 826.7,673.5 829.8,674.2 832.8,675.1 835.9,676.7 838.9,675.3 842,677.5 845.2,675.2 848.4,674.5 851.6,673.7 854.8,671.1 858,671.8 860.6,669.3 863.2,667 865.8,668.3 868.4,664.4 871,663.9 873.8,663.6 876.6,661.8 879.4,659.8 882.2,659.3 885,658.2 887.8,657.4 890.6,653.4 893.4,653.4 896.2,650.7 899,649.2 902.4,650.2 905.8,648.4 909.1,647.7 912.5,647.6 914.4,645.8 916.4,641.7 918.3,639.9 920.2,637.2 922.1,634.8 924.1,633.1 926,629.8 928,627.5 929.9,624.7 931.9,623.7 933.8,620.2 935.8,618.2 937.7,615.8 939.7,610.7 942.8,610.7 945.8,611 948.9,609.5 951.9,605.8 955,604.6 957.7,604.1 960.3,601.1 963,600.1 965.7,597.8 968.3,598.3 971,597 972.5,594.3 974.1,588.6 975.6,587.5 977.2,584.2 978.7,579.2 980.9,579.3 983.1,577 985.4,571.7 987.6,571.8 989.8,567.2 992,565 993,563.8 994,560.4 995,555 996,553.1 997,550.5 998,546.9 999,543.5 1000,541 1001,539.5 1002,534.1 1003,533.1 1004,529.8 1006.3,526.3 1008.5,525.4 1010.8,524.4 1013.1,522 1015.3,518.4 1017.6,519.7 1018.8,516 1020.1,513.7 1021.3,507.6 1022.5,505.2 1023.8,501.3 1025,501 1026.3,496.3 1027.7,493 1029,491.2 1030.3,490.1 1031.7,487 1033,482.1 1034.3,478.7 1035.7,478.5 1037,474.2 1038.3,471.6 1039.7,466.4 1041,463.3 1042.3,462.5 1043.7,458.6 1045,454.3 1046.9,454.9 1048.9,451.3 1050.8,449.5 1052.8,444.4 1054.7,444.7 1056.6,439.4 1058.6,439.8 1060.5,435.8 1062.4,433 1064.4,431.4 1066.3,430.4 1068.2,425.6 1070.2,422.7 1072.1,421.8 1074.1,418.3 1076,415.5 1078.7,418 1081.3,420 1084,422.9 1085.9,425.8 1087.8,428.3 1089.7,432.4 1091.6,433.2 1095.8,433 1100,430.8 1102.8,430.1 1105.5,427.6 1108.2,427.1 1111,424.9 1114,429.9 1117,431.7 1120,432.9 1123.5,435.7 1127.1,439.2 1130.6,438.1 1132.9,443.3 1135.3,444.5 1137.7,447.4 1140,451.2 1143.3,450.3 1146.7,451.4 1150,452.7 1152.5,451.2 1155,446.4 1157.5,445.7 1160,442.7 1162.4,440.5 1164.8,437.7 1167.1,435.5 1169.5,432.4 1171.4,430.2 1173.2,427.5 1175.1,427.4 1177,423.1 1181,421.2 1185,419.3 1188.3,424.1 1191.7,426.3 1195,427.6 1198.2,426.1 1201.4,425.8 1204.6,425.9 1207.7,425.6 1210.9,423.6 1214,423.8 1217.3,422.1 1220.7,423.5 1224,422.5 1226.2,418.3 1228.5,414.5 1230.8,414.4 1233,409.3 1235.9,407.2 1238.7,403.5 1241.6,402.6 1245.1,404.2 1248.5,405.7 1252,405.9 1255.7,407 1259.3,405.2 1263,406.2 1265.3,402.5 1267.7,400.6 1270,396.4 1273.3,394 1276.7,392.8 1279.3,390.7 1281.8,390.1 1284.4,388 1287,386.9 1289.8,384.6 1292.5,382.8 1295.2,381.4 1298,377.6 1301,377.1 1304,379.2 1307,376 1310,377.8 1313.8,376.5 1317.7,373.4 1321.5,375.2 1323.6,372.9 1325.8,369.5 1327.9,367.3 1330,365.1 1333.2,361.4 1336.3,361.4 1339.5,360 1342.4,362.2 1345.2,363.1 1348.1,364.2 1351,364.3 1354,366.2 1357,366.2 1360,366.9 1363,366 1365.8,366.6 1368.5,368.2 1371.2,370.2 1374,370.6 1377.3,374.7 1380.7,375.3 1384,377.1 1387.5,376.8 1391,376.7 1394.5,374.3 1398,370.9 1401.2,372.5 1404.4,371 1407.6,368.8 1410.4,367 1413.2,365.5 1416,361.4 1419,361.9 1422,358.1 1425,355.5 1427.4,353.8 1429.8,353 1432.2,348.7 1434.6,348.3 1437,346.7 1439.3,342.7 1441.6,340.1 1443.9,338.1 1446.2,336.6 1448.5,334.7 1451.3,331.6 1454.2,329.1 1457,324.5 1459.2,322.7 1461.5,321.1 1463.8,320.9 1466,317.3 1468,315.9 1469.9,311.6 1471.9,309.5 1473.8,308 1475.8,307.1 1477.9,304.7 1479.9,302.1 1482,298.2 1485.8,297 1489.5,294.7 1492.7,296.1 1495.8,296.2 1499,300.4 1502.3,299.1 1505.7,303.1 1509,304.2 1511.3,298.7 1513.7,298.1 1516,297.2 1518.2,295.4 1520.4,291.2 1522.6,288.2 1526.4,287 1530.2,288.6 1534,285 1537.3,286.6 1540.7,285.4 1544,287.1 1547.2,288.6 1550.5,285.7 1553.7,288.2 1557.3,289.5 1561,293.4 1565,294.1 1569,293.8 1572,295.3 1575,292.9 1578,290.2 1581,289.2 1584,291 1587,290.8 1590,290.3 1593.5,289.4 1597,289.8 1600.5,289.3 1603,289.6 1605.5,284.9 1608,285.9 1612,284.2 1616,279.6 1619.9,282.5 1623.8,281.8 1627.7,282.4 1630.8,279.2 1633.9,278.5 1637,277.6 1640.3,279.5 1643.7,277.7 1647,276.5 1650.2,276.7 1653.3,276.2 1656.5,275.4 1659.6,275.6 1662.8,278.2 1665.4,274.4 1668,274.8 1670.6,270.5 1673.8,270 1677.1,270.3 1680.3,268.6 1683.5,268.7 1686.8,270.2 1690,269.4 1693,268.9 1696,268.1 1699,268.9 1702,268.8 1705,267.2 1708,267.6 1711,265 1714,267.2 1717,266 1720,266.9 1723.1,266.2 1726.2,264.6 1729.2,263.5 1732.3,266.3 1735.4,263.1 1738.5,264.1 1741.5,263.3 1744.6,262.8 1747.7,264.1 1750.8,264.6 1753.8,261.8 1756.9,262.9 1760,261.3 1763.1,262.2 1766.2,261.6 1769.2,260.8 1772.3,260.8 1775.4,260.9 1778.5,263.5 1781.5,262 1784.6,261 1787.7,263.5 1790.8,263.8 1793.8,261.8 1796.9,260.7 1800,260.9 1803.1,260.4 1806.2,261.2 1809.4,260.2 1812.5,260.6 1815.6,260.5 1818.8,261.5 1821.9,262.5 1825,261.9 1828.1,260.6 1831.2,260.4 1834.4,260.7 1837.5,260.1 1840.6,259.8 1843.8,258.7 1846.9,259.3 1850,261.7 1853.1,258.8 1856.2,260.3 1859.4,260.8 1862.5,261.8 1865.6,259.6 1868.8,259.9 1871.9,260 1875,260.6 1878.1,260.9 1881.2,262.9 1884.4,262.6 1887.5,262.8 1890.6,259.9 1893.8,260.1 1896.9,262.6 1900,263.4 1903.1,261.8 1906.2,262.1 1909.4,259.8 1912.5,261.1 1915.6,262.9 1918.8,262.4 1921.9,262.4 1925,262.7 1928.1,260 1931.2,259.3 1934.4,259.4 1937.5,260.6 1940.6,261 1943.8,261.8 1946.9,260.9 1950,260.5 1953.1,261.1 1956.2,260.1 1959.4,260.6 1962.5,258.8 1965.6,261.6 1968.8,259.8 1971.9,262.4 1975,261.5 1978.1,260.4 1981.2,259.9 1984.4,260.5 1987.5,262 1990.6,262.3 1993.8,260.4 1996.9,260.3 2000,262.1 2003.1,262.3 2006.2,261.6 2009.4,261 2012.5,262.4 2015.6,260.2 2018.8,261.3 2021.9,261.9 2025,263.7 2028.1,262.5 2031.2,263.4 2034.4,261.9 2037.5,261 2040.6,261.1 2043.8,263.7 2046.9,262.7 2050,261.3 2053.1,260.3 2056.2,262 2059.4,262.6 2062.5,261.7 2065.6,261.1 2068.8,262.6 2071.9,263.5 2075,261 2078.1,260.3 2081.2,261.4 2084.4,261.7 2087.5,262.7 2090.6,260.9 2093.8,263.1 2096.9,262.9 2100,262 2103.5,259.7 2107,261.3 2110.7,257.4 2114.3,257.7 2118,254 2121.3,253 2124.7,253.9 2128,251.3 2130.3,251.6 2132.7,248 2135,244.9 2138.3,243.3 2141.6,242.5" fill="none" stroke="#D95319" stroke-width="3.9" stroke-linejoin="round" stroke-dasharray="32 17"/>
<rect x="1506" y="107" width="598" height="163" fill="#fff" stroke="#262626" stroke-width="3.8"/>
<path d="M1571.6 137.4l31.8 31.8M1571.6 169.20000000000002l31.8 -31.8" stroke="#0072BD" stroke-width="5" fill="none"/>
<path d="M1523 225.9H1638" stroke="#D95319" stroke-width="4.2" stroke-dasharray="44.8 25.3" fill="none"/>
<g font-family="'Liberation Sans', Arial, Helvetica, sans-serif" font-size="52.5px" fill="#000" stroke="#000" stroke-width="0.7" stroke-linejoin="round">
<text x="1668.3" y="173.2">Delay (ms)</text>
<text x="1668.3" y="246.8">Packet Loss Rate</text>
</g>
<text font-family="'Liberation Serif', 'Times New Roman', serif" font-size="85px" fill="#000" y="1850.5"><tspan x="1157">(</tspan><tspan x="1183.3" font-size="87px" font-weight="bold" stroke="#fff" stroke-width="1.6" paint-order="fill stroke">a</tspan><tspan x="1225">)</tspan></text>
</g>
<g id="plot-b">
<path d="M275 1930H2168M275 3424H2168" stroke="#262626" stroke-width="4" fill="none"/>
<path d="M465.9 3424v-21.2M465.9 1930v21.2M654.8 3424v-21.2M654.8 1930v21.2M843.7 3424v-21.2M843.7 1930v21.2M1032.6 3424v-21.2M1032.6 1930v21.2M1221.5 3424v-21.2M1221.5 1930v21.2M1410.4 3424v-21.2M1410.4 1930v21.2M1599.3 3424v-21.2M1599.3 1930v21.2M1788.2 3424v-21.2M1788.2 1930v21.2M1977.1 3424v-21.2M1977.1 1930v21.2" stroke="#262626" stroke-width="4" fill="none"/>
<path d="M277 1928V3426M277 3424h21.2M277 2926h21.2M277 2428h21.2M277 1930h21.2" stroke="#000" stroke-width="4" fill="none"/>
<path d="M2166 1928V3426M2166 3424h-21.2M2166 3237.2h-21.2M2166 3050.5h-21.2M2166 2863.8h-21.2M2166 2677h-21.2M2166 2490.2h-21.2M2166 2303.5h-21.2M2166 2116.8h-21.2M2166 1930h-21.2" stroke="#D95319" stroke-width="4" fill="none"/>
<g font-family="'Liberation Sans', Arial, Helvetica, sans-serif" font-size="56.8px" stroke-width="0.8" stroke-linejoin="round">
<g fill="#262626" stroke="#262626" text-anchor="middle">
<text x="274" y="3509">0</text>
<text x="465.9" y="3509">1000</text>
<text x="654.8" y="3509">2000</text>
<text x="843.7" y="3509">3000</text>
<text x="1032.6" y="3509">4000</text>
<text x="1221.5" y="3509">5000</text>
<text x="1410.4" y="3509">6000</text>
<text x="1599.3" y="3509">7000</text>
<text x="1788.2" y="3509">8000</text>
<text x="1977.1" y="3509">9000</text>
<text x="2166" y="3509">10000</text>
</g>
<g fill="#000" stroke="#000" text-anchor="end">
<text x="249.6" y="3447">0</text>
<text x="251.4" y="2949">500</text>
<text x="252.3" y="2451">1000</text>
<text x="252.3" y="1953">1500</text>
</g>
<g fill="#D95319" stroke="#D95319" text-anchor="start">
<text x="2188.6" y="3447">0</text>
<text x="2188.6" y="3260.2">0.1</text>
<text x="2188.6" y="3073.5">0.2</text>
<text x="2188.6" y="2886.8">0.3</text>
<text x="2188.6" y="2700">0.4</text>
<text x="2188.6" y="2513.2">0.5</text>
<text x="2188.6" y="2326.5">0.6</text>
<text x="2188.6" y="2139.8">0.7</text>
<text x="2188.6" y="1953">0.8</text>
</g>
</g>
<g font-family="'Liberation Sans', Arial, Helvetica, sans-serif" font-size="66px" text-anchor="middle" stroke-width="0.8" stroke-linejoin="round">
<text x="1218" y="3597" fill="#262626" stroke="#262626">Frame Arrival Time (ms)</text>
<text transform="translate(90.5 2679) rotate(-90)" font-size="65.4px" fill="#000" stroke="#000">Delay (ms)</text>
<text transform="translate(2358 2678) rotate(-90)" font-size="65.4px" fill="#D95319" stroke="#D95319">Packet Loss Rate</text>
</g>
<g clip-path="url(#clipb)">
<polyline points="277,3424 562.6,2802.1 566.2,2802.1 566.5,2796.3 570.1,2796.3 560,2793.4 563.6,2793.4 572.2,2787.9 575.8,2787.9 565.5,2788.1 569.1,2788.1 567.6,2781 571.2,2781 578.6,2777.4 582.2,2777.4 579.8,2765.5 583.4,2765.5 579.1,2757.4 582.7,2757.4 586.8,2752.2 590.4,2752.2 582.1,2748.6 585.7,2748.6 585.1,2743 588.7,2743 600.5,2737.8 604.1,2737.8 600.4,2739.2 604,2739.2 602,2733 605.6,2733 605.6,2725.1 609.2,2725.1 607.7,2716.1 611.3,2716.1 611.3,2752.7 614.9,2752.7 620.6,2755.6 624.2,2755.6 619.9,2764.8 623.5,2764.8 617.1,2765.4 620.7,2765.4 632.9,2768.7 636.5,2768.7 633.5,2777.3 637.1,2777.3 637.5,2776 641.1,2776 642.1,2785.7 645.7,2785.7 636.7,2786.9 640.3,2786.9 630.7,2797.2 634.3,2797.2 627.8,2796.1 631.4,2796.1 632.7,2805.5 636.3,2805.5 634.8,2813.8 638.4,2813.8 636.3,2813.7 639.9,2813.7 657.9,2812.8 661.5,2812.8 652.1,2814.3 655.7,2814.3 658.4,2820.1 662,2820.1 645.5,2737.2 649.1,2737.2 643.4,2733 647,2733 644.5,2727.1 648.1,2727.1 652.7,2730.5 656.3,2730.5 652.5,2728.4 656.1,2728.4 661,2731 664.6,2731 658.6,2729 662.2,2729 655.9,2729.2 659.5,2729.2 662.6,2721.3 666.2,2721.3 662.4,2723.3 666,2723.3 663.7,2711.5 667.3,2711.5 667.1,2701.1 670.7,2701.1 663.4,2703.3 667,2703.3 671.6,2697.2 675.2,2697.2 685.5,2693 689.1,2693 685.3,2683.3 688.9,2683.3 689.7,2676.2 693.3,2676.2 689.4,2678.6 693,2678.6 692.8,2667.9 696.4,2667.9 695.4,2662.4 699,2662.4 702,2657 705.6,2657 719.2,2578 722.8,2578 721.7,2572.8 725.3,2572.8 722.3,2568.3 725.9,2568.3 721.4,2564.9 725,2564.9 730.8,2566.8 734.4,2566.8 726.2,2561.6 729.8,2561.6 732.7,2559.9 736.3,2559.9 733.7,2557.1 737.3,2557.1 735.6,2550.6 739.2,2550.6 746.3,2519 749.9,2519 754.2,2518.7 757.8,2518.7 759.1,2513.7 762.7,2513.7 757.7,2511.3 761.3,2511.3 764.1,2506.5 767.7,2506.5 763.1,2496.6 766.7,2496.6 765.2,2499.1 768.8,2499.1 767.8,2493 771.4,2493 761.6,2477.6 765.2,2477.6 762.2,2481.2 765.8,2481.2 766,2474.9 769.6,2474.9 766.4,2475.8 770,2475.8 761.3,2462.1 764.9,2462.1 768.7,2455.2 772.3,2455.2 772.6,2467.5 776.2,2467.5 774.1,2466.4 777.7,2466.4 775.7,2471.4 779.3,2471.4 778.9,2466.5 782.5,2466.5 782.2,2470.4 785.8,2470.4 794.4,2320.3 798,2320.3 803.1,2324 806.7,2324 803,2332.9 806.6,2332.9 804.2,2333.4 807.8,2333.4 821.7,2336.6 825.3,2336.6 816.2,2335.7 819.8,2335.7 823.6,2345.4 827.2,2345.4 826.2,2349.8 829.8,2349.8 825.9,2361.2 829.5,2361.2 831.6,2370.1 835.2,2370.1 835.1,2374.9 838.7,2374.9 841.8,2382.5 845.4,2382.5 842.1,2389.6 845.7,2389.6 845.2,2398.1 848.8,2398.1 840,2406.9 843.6,2406.9 841,2405.4 844.6,2405.4 844.3,2416 847.9,2416 841.4,2418.6 845,2418.6 851.3,2418 854.9,2418 848.5,2429 852.1,2429 850.1,2428.5 853.7,2428.5 853.6,2434.9 857.2,2434.9 867.6,2428.5 871.2,2428.5 875.8,2426 879.4,2426 880.6,2429 884.2,2429 872.7,2433.6 876.3,2433.6 876.9,2435 880.5,2435 880.1,2427.5 883.7,2427.5 884.2,2430 887.8,2430 888.1,2440 891.7,2440 890.1,2433.6 893.7,2433.6 880.5,2440 884.1,2440 879.5,2437.7 883.1,2437.7 884.9,2431.1 888.5,2431.1 890.1,2433.7 893.7,2433.7 893.6,2424.1 897.2,2424.1 894.4,2425 898,2425 892.2,2416.8 895.8,2416.8 897.9,2409.7 901.5,2409.7 899.2,2410.8 902.8,2410.8 898.7,2398 902.3,2398 898.6,2402.2 902.2,2402.2 899,2391.3 902.6,2391.3 915.5,2387.6 919.1,2387.6 912.3,2386.2 915.9,2386.2 911.5,2374.5 915.1,2374.5 917.2,2370 920.8,2370 918.1,2370.9 921.7,2370.9 918.8,2357.2 922.4,2357.2 922.9,2359.3 926.5,2359.3 920.8,2351.8 924.4,2351.8 928.2,2361 931.8,2361 923,2361.2 926.6,2361.2 928.7,2368.1 932.3,2368.1 930.4,2368.9 934,2368.9 936.7,2375.2 940.3,2375.2 922.1,2389.7 925.7,2389.7 929.7,2395.1 933.3,2395.1 935,2402.1 938.6,2402.1 945.2,2409.5 948.8,2409.5 951.6,2412.3 955.2,2412.3 951.6,2415.4 955.2,2415.4 954.1,2423.5 957.7,2423.5 953.5,2420.8 957.1,2420.8 957.5,2426.9 961.1,2426.9 952.3,2427.8 955.9,2427.8 960.9,2435 964.5,2435 965.9,2441.1 969.5,2441.1 966.3,2449.3 969.9,2449.3 965.6,2448 969.2,2448 975.2,2454.5 978.8,2454.5 978.9,2464.3 982.5,2464.3 974.3,2462.2 977.9,2462.2 970.7,2477.3 974.3,2477.3 975.9,2481.3 979.5,2481.3 974.5,2479.8 978.1,2479.8 986.4,2485 990,2485 984.3,2481.2 987.9,2481.2 979.1,2494.2 982.7,2494.2 982.8,2495.5 986.4,2495.5 987.4,2495.7 991,2495.7 991.6,2502.6 995.2,2502.6 991,2501.8 994.6,2501.8 990.6,2513.1 994.2,2513.1 989.3,2513.5 992.9,2513.5 995.1,2516.6 998.7,2516.6 997.1,2521.3 1000.7,2521.3 997,2519.6 1000.6,2519.6 1002,2525 1005.6,2525 1007,2539.1 1010.6,2539.1 1009.2,2529.4 1012.8,2529.4 1019.1,2524.5 1022.7,2524.5 1023.9,2522.4 1027.5,2522.4 1024.7,2526.9 1028.3,2526.9 1027,2519.9 1030.6,2519.9 1021.8,2518.4 1025.4,2518.4 1031.3,2530 1034.9,2530 1036.1,2536 1039.7,2536 1040.5,2546.6 1044.1,2546.6 1042.9,2541.3 1046.5,2541.3 1043.9,2534.1 1047.5,2534.1 1051.4,2542.8 1055,2542.8 1045.8,2534.5 1049.4,2534.5 1049.1,2530.4 1052.7,2530.4 1056.2,2544 1059.8,2544 1056.1,2542.9 1059.7,2542.9 1058.4,2544.2 1062,2544.2 1073.5,2444.7 1077.1,2444.7 1066,2439.2 1069.6,2439.2 1071.5,2434.2 1075.1,2434.2 1076.6,2432 1080.2,2432 1078.9,2433.1 1082.5,2433.1 1079.2,2429.1 1082.8,2429.1 1078.5,2426.3 1082.1,2426.3 1082.9,2419.2 1086.5,2419.2 1080.5,2420.1 1084.1,2420.1 1088.3,2417 1091.9,2417 1084.8,2411.6 1088.4,2411.6 1097,2228.3 1100.6,2228.3 1098.1,2217.7 1101.7,2217.7 1101,2224.6 1104.6,2224.6 1106.5,2216.5 1110.1,2216.5 1104.9,2211.8 1108.5,2211.8 1109.4,2210.6 1113,2210.6 1114.2,2200.5 1117.8,2200.5 1116.6,2195.3 1120.2,2195.3 1124,2198.3 1127.6,2198.3 1122.3,2195.5 1125.9,2195.5 1124.6,2196 1128.2,2196 1128.8,2203.2 1132.4,2203.2 1135.3,2206.7 1138.9,2206.7 1141.8,2198.8 1145.4,2198.8 1140.8,2204.4 1144.4,2204.4 1135.5,2226.7 1139.1,2226.7 1140.7,2225.9 1144.3,2225.9 1142.1,2226.7 1145.7,2226.7 1156.1,2210.6 1159.7,2210.6 1155.8,2212.2 1159.4,2212.2 1151.5,2205.3 1155.1,2205.3 1144.4,2209.7 1148,2209.7 1143.9,2201 1147.5,2201 1138.1,2198.1 1141.7,2198.1 1140.2,2195.5 1143.8,2195.5 1138.5,2189.8 1142.1,2189.8 1132.6,2192.5 1136.2,2192.5 1129.4,2184.1 1133,2184.1 1130.7,2186.7 1134.3,2186.7 1124.1,2189.4 1127.7,2189.4 1124.4,2189.4 1128,2189.4 1118.3,2181.5 1121.9,2181.5 1120.3,2185.7 1123.9,2185.7 1165.1,2041.2 1168.7,2041.2 1168.9,2050.8 1172.5,2050.8 1168.1,2054.1 1171.7,2054.1 1169.1,2064.6 1172.7,2064.6 1161.8,2061.1 1165.4,2061.1 1162.2,2072.8 1165.8,2072.8 1165.8,2073.9 1169.4,2073.9 1156.1,2083.8 1159.7,2083.8 1172.2,2093.9 1175.8,2093.9 1168.3,2097.6 1171.9,2097.6 1176,2090 1179.6,2090 1175.4,2106.1 1179,2106.1 1167.9,2095.1 1171.5,2095.1 1173.3,2093.8 1176.9,2093.8 1173,2099.7 1176.6,2099.7 1175.6,2100.2 1179.2,2100.2 1178.4,2108 1182,2108 1176.3,2105.9 1179.9,2105.9 1187.6,2109.9 1191.2,2109.9 1193,2108 1196.6,2108 1200.1,2107.6 1203.7,2107.6 1201.2,2099.6 1204.8,2099.6 1198.7,2096.9 1202.3,2096.9 1201.7,2091.2 1205.3,2091.2 1203.7,2083.2 1207.3,2083.2 1202.4,2080.7 1206,2080.7 1207.8,2073.6 1211.4,2073.6 1196.2,2060.8 1199.8,2060.8 1201.6,2064.3 1205.2,2064.3 1196.4,2049.2 1200,2049.2 1198.9,2053.8 1202.5,2053.8 1199.7,2043.6 1203.3,2043.6 1199.6,2029.1 1203.2,2029.1 1200.2,2029 1203.8,2029 1207.5,2023.6 1211.1,2023.6 1210.8,2021.3 1214.4,2021.3 1209.5,2011.5 1213.1,2011.5 1209.4,2012.2 1213,2012.2 1214.3,2019.6 1217.9,2019.6 1218.4,2019.2 1222,2019.2 1213,2029.3 1216.6,2029.3 1210,2027.8 1213.6,2027.8 1214.1,2035.6 1217.7,2035.6 1217.7,2046.4 1221.3,2046.4 1226.9,2050.9 1230.5,2050.9 1229.6,2045.6 1233.2,2045.6 1237.1,2045.4 1240.7,2045.4 1238.8,2042 1242.4,2042 1240.7,2061.9 1244.3,2061.9 1237.8,2076.7 1241.4,2076.7 1244.5,2065.3 1248.1,2065.3 1243.4,2075.4 1247,2075.4 1258.5,2066.9 1262.1,2066.9 1252.7,2064.1 1256.3,2064.1 1243.3,2048 1246.9,2048 1252.9,2050.8 1256.5,2050.8 1258,2045.1 1261.6,2045.1 1258,2044.8 1261.6,2044.8 1262,2042.4 1265.6,2042.4 1263.5,2040.6 1267.1,2040.6 1267.9,2036.1 1271.5,2036.1 1259.9,2031 1263.5,2031 1265.5,2027.6 1269.1,2027.6 1274.6,2028.5 1278.2,2028.5 1277.5,2026.1 1281.1,2026.1 1285.3,2022.8 1288.9,2022.8 1282.3,2020.9 1285.9,2020.9 1285.8,2011.8 1289.4,2011.8 1287.5,2011.5 1291.1,2011.5 1285.5,2003.9 1289.1,2003.9 1293.7,1999.5 1297.3,1999.5 1298.2,1990 1301.8,1990 1291.9,1993.9 1295.5,1993.9 1292.7,2006.2 1296.3,2006.2 1298.5,2003.2 1302.1,2003.2 1300.3,2014.5 1303.9,2014.5 1297.3,2013.1 1300.9,2013.1 1299.9,2022.5 1303.5,2022.5 1302.7,2022 1306.3,2022 1291.6,2076 1295.2,2076 1300.3,2067.7 1303.9,2067.7 1308.4,2064.5 1312,2064.5 1311.8,2080.5 1315.4,2080.5 1319.6,2090.7 1323.2,2090.7 1325.2,2106.9 1328.8,2106.9 1328.2,2123.2 1331.8,2123.2 1328.8,2135 1332.4,2135 1328.9,2141.3 1332.5,2141.3 1330.6,2141.7 1334.2,2141.7 1332.4,2152.8 1336,2152.8 1337.5,2148.2 1341.1,2148.2 1338.7,2155.9 1342.3,2155.9 1346.8,2162.2 1350.4,2162.2 1342.6,2163.4 1346.2,2163.4 1348.5,2171.1 1352.1,2171.1 1356.5,2168.7 1360.1,2168.7 1359.7,2176.8 1363.3,2176.8 1357.6,2175.1 1361.2,2175.1 1366.7,2179.1 1370.3,2179.1 1373.9,2176.1 1377.5,2176.1 1372.5,2177.7 1376.1,2177.7 1382.4,2031.6 1386,2031.6 1386.7,2040.1 1390.3,2040.1 1387.9,2052.4 1391.5,2052.4 1385.9,2051.3 1389.5,2051.3 1392,2060.4 1395.6,2060.4 1400.3,2070.3 1403.9,2070.3 1399.8,2078.4 1403.4,2078.4 1397.5,2080.8 1401.1,2080.8 1408,2085.4 1411.6,2085.4 1413.7,2146.4 1417.3,2146.4 1419.4,2152.8 1423,2152.8 1418.3,2166.8 1421.9,2166.8 1419.4,2173.7 1423,2173.7 1428.9,2181.3 1432.5,2181.3 1427.1,2190.6 1430.7,2190.6 1432.7,2191.2 1436.3,2191.2 1430.1,2202.9 1433.7,2202.9 1430.7,2202.7 1434.3,2202.7 1436.8,2208 1440.4,2208 1424.8,2222.4 1428.4,2222.4 1428.3,2221.1 1431.9,2221.1 1428.8,2229.1 1432.4,2229.1 1428.5,2233.2 1432.1,2233.2 1433.8,2240.3 1437.4,2240.3 1427.6,2239.4 1431.2,2239.4 1442.9,2248.7 1446.5,2248.7 1437.6,2249.4 1441.2,2249.4 1444.9,2256.4 1448.5,2256.4 1443.3,2264.9 1446.9,2264.9 1446.7,2276.3 1450.3,2276.3 1445.7,2277.9 1449.3,2277.9 1451,2283.7 1454.6,2283.7 1446.3,2283.3 1449.9,2283.3 1452.8,2291.3 1456.4,2291.3 1461.4,2291.3 1465,2291.3 1458.2,2296.2 1461.8,2296.2 1463.2,2298.7 1466.8,2298.7 1467.2,2299.6 1470.8,2299.6 1464.4,2303.1 1468,2303.1 1469.6,2301.2 1473.2,2301.2 1475,2298.9 1478.6,2298.9 1471.2,2297.9 1474.8,2297.9 1477.5,2294.6 1481.1,2294.6 1481.2,2293.3 1484.8,2293.3 1483.6,2290.7 1487.2,2290.7 1479.8,2290 1483.4,2290 1484.2,2289.6 1487.8,2289.6 1488,2284.4 1491.6,2284.4 1493.6,2278.6 1497.2,2278.6 1497.2,2271.4 1500.8,2271.4 1498.7,2270.9 1502.3,2270.9 1498.5,2261.3 1502.1,2261.3 1500.3,2261.9 1503.9,2261.9 1497.9,2252.7 1501.5,2252.7 1499.3,2254.7 1502.9,2254.7 1509.4,2247.7 1513,2247.7 1504.4,2248 1508,2248 1511.2,2251 1514.8,2251 1514,2259.2 1517.6,2259.2 1522.6,2258.1 1526.2,2258.1 1520.6,2268.1 1524.2,2268.1 1519.1,2266.7 1522.7,2266.7 1522.3,2276.2 1525.9,2276.2 1533.4,2280.8 1537,2280.8 1526.1,2287 1529.7,2287 1535,2289.5 1538.6,2289.5 1519.7,2307.9 1523.3,2307.9 1522.1,2315.3 1525.7,2315.3 1520.6,2313.8 1524.2,2313.8 1531.8,2322.8 1535.4,2322.8 1527.6,2324.4 1531.2,2324.4 1527.5,2331.7 1531.1,2331.7 1552.5,2337.2 1556.1,2337.2 1546.3,2340.1 1549.9,2340.1 1552.6,2344.2 1556.2,2344.2 1550.7,2354.7 1554.3,2354.7 1552.2,2349.9 1555.8,2349.9 1555.1,2353.6 1558.7,2353.6 1553.1,2359.2 1556.7,2359.2 1565,2362.8 1568.6,2362.8 1562.7,2365.9 1566.3,2365.9 1562.5,2374.2 1566.1,2374.2 1569,2375.1 1572.6,2375.1 1570.5,2387.5 1574.1,2387.5 1569.9,2383.1 1573.5,2383.1 1574.5,2392.3 1578.1,2392.3 1571.7,2393.6 1575.3,2393.6 1571.3,2404.1 1574.9,2404.1 1569.7,2403.3 1573.3,2403.3 1577.2,2412 1580.8,2412 1579.3,2418.4 1582.9,2418.4 1578.1,2419 1581.7,2419 1588.2,2425.7 1591.8,2425.7 1587.5,2427.2 1591.1,2427.2 1588.6,2436.4 1592.2,2436.4 1588.3,2442.5 1591.9,2442.5 1585,2458.2 1588.6,2458.2 1584.1,2457 1587.7,2457 1585.3,2464.9 1588.9,2464.9 1588.2,2465.5 1591.8,2465.5 1588.2,2472.9 1591.8,2472.9 1590.6,2470.9 1594.2,2470.9 1605.2,2474.7 1608.8,2474.7 1609.9,2476.7 1613.5,2476.7 1607.7,2486.2 1611.3,2486.2 1616.7,2490.7 1620.3,2490.7 1615,2492.3 1618.6,2492.3 1617.9,2495.5 1621.5,2495.5 1636.2,2406.6 1639.8,2406.6 1631.6,2419.3 1635.2,2419.3 1636.6,2416.3 1640.2,2416.3 1639.3,2424.1 1642.9,2424.1 1641.5,2435.1 1645.1,2435.1 1637.4,2431.9 1641,2431.9 1639.8,2444.1 1643.4,2444.1 1642.9,2442.2 1646.5,2442.2 1637.8,2451.1 1641.4,2451.1 1633.8,2451.9 1637.4,2451.9 1636.4,2463.4 1640,2463.4 1640.2,2462.5 1643.8,2462.5 1643.5,2472.3 1647.1,2472.3 1654.1,2479.2 1657.7,2479.2 1646.6,2477.7 1650.2,2477.7 1650.9,2489.4 1654.5,2489.4 1655.5,2489.1 1659.1,2489.1 1650.6,2499.4 1654.2,2499.4 1653.6,2499.5 1657.2,2499.5 1653.8,2508.6 1657.4,2508.6 1658.7,2512.4 1662.3,2512.4 1662.8,2522.5 1666.4,2522.5 1660.7,2529.3 1664.3,2529.3 1671.3,2532.1 1674.9,2532.1 1674.5,2523.2 1678.1,2523.2 1673.3,2523.5 1676.9,2523.5 1677.7,2518.6 1681.3,2518.6 1681,2514.9 1684.6,2514.9 1678,2498.7 1681.6,2498.7 1684.8,2504.8 1688.4,2504.8 1683.4,2496.7 1687,2496.7 1688.8,2498.4 1692.4,2498.4 1691.5,2495.3 1695.1,2495.3 1690.6,2494.2 1694.2,2494.2 1696.1,2507.4 1699.7,2507.4 1701.9,2514.7 1705.5,2514.7 1703.8,2526.5 1707.4,2526.5 1703.9,2525.2 1707.5,2525.2 1702,2533.9 1705.6,2533.9 1703.6,2546 1707.2,2546 1707.3,2545.9 1710.9,2545.9 1694.2,2557.4 1697.8,2557.4 1698.1,2560 1701.7,2560 1693.4,2555.7 1697,2555.7 1690.8,2565.9 1694.4,2565.9 1689.2,2552.6 1692.8,2552.6 1686.9,2542.7 1690.5,2542.7 1683,2545.8 1686.6,2545.8 1678.5,2544.1 1682.1,2544.1 1679.6,2545.8 1683.2,2545.8 1675.6,2533.1 1679.2,2533.1 1672.9,2541.5 1676.5,2541.5 1700.7,2427.6 1704.3,2427.6 1710.7,2429.5 1714.3,2429.5 1703,2426.2 1706.6,2426.2 1712.6,2426.2 1716.2,2426.2 1719.1,2421.1 1722.7,2421.1 1712.2,2419.7 1715.8,2419.7 1725.1,2419.6 1728.7,2419.6 1728.4,2422.5 1732,2422.5 1724.8,2366.2 1728.4,2366.2 1731.2,2373.7 1734.8,2373.7 1732.1,2369.7 1735.7,2369.7 1732.8,2367.8 1736.4,2367.8 1741.5,2367 1745.1,2367 1742,2368.2 1745.6,2368.2 1740.2,2359.4 1743.8,2359.4 1742.6,2358.2 1746.2,2358.2 1744.9,2351.6 1748.5,2351.6 1748.2,2356.6 1751.8,2356.6 1749.5,2359.2 1753.1,2359.2 1751.5,2362.4 1755.1,2362.4 1756.8,2358.6 1760.4,2358.6 1755.9,2363.5 1759.5,2363.5 1760.4,2369.2 1764,2369.2 1766.4,2365 1770,2365 1765,2361.7 1768.6,2361.7 1767.9,2359.6 1771.5,2359.6 1763.3,2360.6 1766.9,2360.6 1759.6,2355.6 1763.2,2355.6 1752.8,2354.9 1756.4,2354.9 1757.4,2347.6 1761,2347.6 1747.5,2343.8 1751.1,2343.8 1742.3,2343.7 1745.9,2343.7 1747.3,2340.7 1750.9,2340.7 1743,2331.3 1746.6,2331.3 1738.8,2328.3 1742.4,2328.3 1731.4,2325.8 1735,2325.8 1728.4,2317.9 1732,2317.9 1734.5,2305.2 1738.1,2305.2 1733.6,2308.3 1737.2,2308.3 1732.7,2310.9 1736.3,2310.9 1741.6,2306.5 1745.2,2306.5 1744,2299 1747.6,2299 1772.2,2243.9 1775.8,2243.9 1771.6,2251 1775.2,2251 1776.4,2254.6 1780,2254.6 1772.7,2258.3 1776.3,2258.3 1781.6,2258.3 1785.2,2258.3 1786.8,2259.4 1790.4,2259.4 1784.1,2264 1787.7,2264 1792.2,2271 1795.8,2271 1790.8,2267.7 1794.4,2267.7 1797.7,2253.4 1801.3,2253.4 1796.2,2255.2 1799.8,2255.2 1799.4,2259.4 1803,2259.4 1799.6,2261.6 1803.2,2261.6 1804.5,2262.3 1808.1,2262.3 1807.8,2256.1 1811.4,2256.1 1808.9,2262.3 1812.5,2262.3 1805.8,2269.3 1809.4,2269.3 1816.4,2262.8 1820,2262.8 1811,2264.2 1814.6,2264.2 1809.3,2269.1 1812.9,2269.1 1816.8,2260.2 1820.4,2260.2 1808.8,2258.4 1812.4,2258.4 1828.3,2252.5 1831.9,2252.5 2118.5,2055.5 2122.1,2055.5 2119,2056 2122.6,2056 2119.8,2067 2123.4,2067 2115.9,2075.9 2119.5,2075.9 2123.4,2073.5 2127,2073.5 2118.8,2085.7 2122.4,2085.7 2118.1,2094.8 2121.7,2094.8 2124.4,2101.7 2128,2101.7 2122,2111.7 2125.6,2111.7 2127,2122.7 2130.6,2122.7 2127.6,2122 2131.2,2122 2121.1,2133.6 2124.7,2133.6 2114.1,2142.7 2117.7,2142.7 2119.6,2141.5 2123.2,2141.5 2112.2,2153.1 2115.8,2153.1 2119.6,2164.8 2123.2,2164.8 2144.4,2274.7 2148,2274.7 2145.1,2275.1 2148.7,2275.1 2145.2,2283.5 2148.8,2283.5 2147.7,2293.8 2151.3,2293.8 2152.4,2299 2156,2299 2147.2,2304.5 2150.8,2304.5 2149.6,2309.2 2153.2,2309.2 2148.7,2309.4 2152.3,2309.4 2153.9,2322.1 2157.5,2322.1 2157.8,2330.6 2161.4,2330.6 2152.7,2327 2156.3,2327 320.3,3371.8 324.3,3371.2 429.4,3159.5 433.4,3160.1 796.7,2378.6 800.7,2378 795.1,2380.5 799.1,2381.1 1016.8,2573.4 1020.8,2572.8 1065.5,2493.5 1069.5,2494.1 1092.8,2363 1096.8,2362.4 1090.9,2366.9 1094.9,2367.5 1153.8,2161.8 1157.8,2161.2 1381.8,2113.1 1385.8,2113.7 1479.8,2355.8 1483.8,2355.2 1553.8,2281.8 1557.8,2282.4 1772,2301.3 1776,2300.7 1822.7,2200 1826.7,2200.6 1823,2188 1827,2187.4 1827,2166 1831,2166.6 1830,2150 1834,2149.4 1834,2130 1838,2130.6 1874,1981 1878,1980.4 1879,1980 1883,1980.6 1942,2165 1946,2164.4 1946,2163 1950,2163.6 1984,2140 1988,2139.4 2012,2138 2016,2138.6 2058,1976 2062,1975.4 2134.4,2214.4 2138.4,2215 2138.3,2230 2142.3,2229.4 2138.3,2249.5 2142.3,2250.1 277.9,3404.6 281.5,3404.6 305.3,3405.6 308.9,3405.6 294,3413.2 297.6,3413.2 293.2,3417.8 296.8,3417.8 299.6,3387.2 303.2,3387.2 297.9,3400.8 301.5,3400.8 296.6,3391.5 300.2,3391.5 303,3387.5 306.6,3387.5 287.2,3396.9 290.8,3396.9 285.9,3395.3 289.5,3395.3 305.3,3404.5 308.9,3404.5 276.4,3414.8 280,3414.8 278.3,3416.5 281.9,3416.5 291.5,3406.2 295.1,3406.2 305.7,3408.6 309.3,3408.6 302.5,3391.7 306.1,3391.7 277,3424 281,3424 318,3423 322,3422 365.8,3346 369.4,3346 349.5,3309.9 353.1,3309.9 350.4,3348.3 354,3348.3 332.4,3318.2 336,3318.2 340,3321 343.6,3321 358.8,3353.9 362.4,3353.9 354.8,3352.1 358.4,3352.1 345.7,3303.4 349.3,3303.4 352.1,3341.5 355.7,3341.5 342.1,3308.5 345.7,3308.5 352.4,3350.2 356,3350.2 342.7,3304.3 346.3,3304.3 336.6,3303 340.2,3303 367.1,3320.9 370.7,3320.9 360.6,3316.5 364.2,3316.5 344.1,3345.2 347.7,3345.2 395.4,3282.2 399,3282.2 401.2,3302.2 404.8,3302.2 402.7,3303.7 406.3,3303.7 399.3,3309.7 402.9,3309.7 387.2,3273.3 390.8,3273.3 394,3317.4 397.6,3317.4 387.4,3281 391,3281 388.4,3278.7 392,3278.7 400.2,3288.2 403.8,3288.2 378.5,3292.5 382.1,3292.5 384.5,3275.9 388.1,3275.9 416.6,3202.1 420.2,3202.1 418.8,3201 422.4,3201 417.6,3210.6 421.2,3210.6 420.2,3200.2 423.8,3200.2 412.6,3230.9 416.2,3230.9 421.7,3197.9 425.3,3197.9 414.2,3213.6 417.8,3213.6 452.2,3070.4 455.8,3070.4 456.5,3056.7 460.1,3056.7 468.8,3034.8 472.4,3034.8 475,3043.5 478.6,3043.5 438.2,3081.9 441.8,3081.9 462.7,3038.4 466.3,3038.4 474.4,3034.9 478,3034.9 446.5,3070.3 450.1,3070.3 445.6,3057.6 449.2,3057.6 438.4,3075.6 442,3075.6 469.6,3037.9 473.2,3037.9 462.2,3054 465.8,3054 456.6,3050.5 460.2,3050.5 454.1,3068.5 457.7,3068.5 493.2,2995.3 496.8,2995.3 492.8,2987.5 496.4,2987.5 503.1,2956.8 506.7,2956.8 499.6,2966.5 503.2,2966.5 493.6,2997.8 497.2,2997.8 498.2,2961.3 501.8,2961.3 495.3,2975.5 498.9,2975.5 529.3,2916.7 532.9,2916.7 514.3,2901.2 517.9,2901.2 523.6,2911.8 527.2,2911.8 514.6,2917 518.2,2917 516.8,2914.4 520.4,2914.4 526.8,2899.6 530.4,2899.6 520.8,2913.6 524.4,2913.6 524.3,2900.1 527.9,2900.1 534.8,2899 538.4,2899 517.9,2895 521.5,2895 551.4,2835.8 555,2835.8 560.2,2816.7 563.8,2816.7 542.6,2842 546.2,2842 547.3,2839.4 550.9,2839.4 547.8,2824 551.4,2824 546.7,2846.7 550.3,2846.7 543.6,2833.1 547.2,2833.1 543.3,2826.2 546.9,2826.2 558.5,2831.5 562.1,2831.5" fill="none" stroke="none" marker-start="url(#mx)" marker-mid="url(#mx)" marker-end="url(#mx)"/>
</g>
<polyline points="278,3424 278,1932" fill="none" stroke="#D95319" stroke-width="2.4" stroke-linejoin="round" stroke-dasharray="44 26"/>
<polyline points="279,1935 279.3,2050 279.6,2150 280,2250 280.5,2362.9 282,2337.3 284,2465 286,2446.2 288,2372.1 290.5,2444.2 293,2422.2 294,2514.4 296,2546.6 297.5,2567.4 299,2568.6 300.3,2592.4 301.7,2562.7 303,2552.7 304.9,2576.8 306.8,2560.6 308.7,2564.2 310.6,2596.3 312.6,2600.5 314.5,2639.5 316.2,2628 318,2595.7 319.3,2614.4 320.7,2594.5 322,2592.2 323.5,2613 325,2591.9 326.5,2608.5 328,2592.2 329.5,2602.8 331,2575.2 332.5,2564.8 334,2572.4 335.3,2559.4 336.7,2569.8 338,2562.7 339.4,2567.3 340.9,2559.8 342.4,2564.6 343.8,2558.1 345.2,2568.6 346.6,2572.3 348,2574.8 349.8,2580.8 351.6,2577.5 353,2585.7 354.3,2598.4 355.6,2595.6 357,2606.3 358.3,2603.2 359.7,2610.3 361,2622.9 362.5,2617 364,2628.2 365.5,2624.2 367,2634.1 368.7,2629.6 370.3,2613.8 372,2606.8 373.7,2600.6 375.3,2604.2 377,2590.8 378.7,2602.2 380.3,2599 382,2601.9 383.5,2611.7 385.1,2615.6 386.6,2610.9 388.1,2607 389.6,2610.5 391,2606.7 392.5,2595.1 394.2,2598.1 396,2588.2 397.3,2593.4 398.7,2582.7 400,2582.5 401.7,2592.3 403.3,2589.8 405,2600.8 406.3,2595.2 407.7,2603.5 409,2600 410.7,2605 412.3,2598.9 414,2601.8 415.4,2597.8 416.9,2603.4 418.3,2596.2 419.7,2601.5 421,2590.9 422.3,2590.1 423.6,2578.5 425.2,2582.8 426.7,2575 428.3,2577.7 429.8,2572.3 431.4,2570 432.7,2568.4 434,2561" fill="none" stroke="#D95319" stroke-width="2.6" stroke-linejoin="round"/>
<polyline points="434,2560.9 436.5,2564.2 439,2567.1 443,2571.7 446.5,2567.7 450,2567 453.4,2568.9 456.8,2567.8 460.9,2570 465,2571.3 468,2571.8 471,2574.4 474,2577.1 476,2574.1 478,2572.3 480,2568.6 482,2566.4 486,2566.1 490,2567 493.9,2568.9 497.7,2569 499.3,2566.7 500.8,2563 502.4,2561.1 503.9,2556.8 505.5,2554.5 507,2552.5 508.5,2549.8 510,2546.2 511.5,2542.5 513,2540 515.5,2542 518,2544.3 520.5,2547.6 523,2548.3 526,2547.6 529,2545.2 532,2540.9 534.8,2539.6 537.7,2537.8 540.5,2534.6 544.3,2535.2 548.2,2536 552,2533.8 554.7,2536.6 557.3,2537.1 560,2539.8 563,2541 566,2539.8 569,2539.9 572,2540.5 575,2542.1 578.3,2541.5 581.6,2542.3 584.9,2543.9 588.2,2545.5 591.5,2545 594.8,2545.6 598.1,2547.4 601.4,2547.4 604.7,2549.9 608,2550.2 610.8,2552.6 613.6,2554.7 616.4,2553.8 619.2,2556.3 622,2557.8 624.6,2558.2 627.2,2559.9 629.8,2563.2 632.4,2564.7 635,2564.1 637.8,2566.7 640.6,2568.5 643.4,2568 646.2,2570.1 649,2569.9 652.7,2569.7 656.3,2569.4 660,2568.2 663.2,2567.5 666.4,2564.7 669.5,2564.2 672.7,2564.3 676.5,2562.8 680.2,2561.7 684,2560.8 687,2561.8 690,2560.4 693,2558.7 696,2560.2 699,2558.6 702,2558.3 705,2557.3 708,2557.4 711,2556.6 714.2,2555.6 717.4,2556.4 720.6,2554.7 723.8,2555.9 727,2553.7 730,2554.8 733,2554.3 736,2552.9 739,2552.8 742,2551 745,2551.6 748.4,2550.3 751.8,2549.4 755.2,2550.7 758.6,2548.8 762,2548.3 765.2,2549.5 768.4,2548.4 771.6,2549.2 774.8,2548.1 778,2549.8 781.1,2548.6 784.2,2548.2 787.3,2550.6 790.4,2548.8 793.5,2550.8 796.5,2548.3 799.6,2544.8 802.6,2540.8 806.1,2540.5 809.6,2540.5 813,2540.5 816.5,2540.7 820,2541.1 823.1,2540.8 826.1,2541.4 829.2,2543.6 832.3,2543.7 835.4,2544.7 838.4,2547 841.5,2548.5 844.6,2548.5 847.7,2551 850.8,2553.2 853.9,2554.9 857,2555.5 860.3,2557.2 863.5,2555.9 866.8,2557.7 870.1,2558.3 873.3,2559 876.6,2558.5 879.8,2557.3 883.1,2556.9 886.3,2557.8 889.5,2556.7 892.8,2557.6 896,2556 899.2,2556.5 902.5,2554 905.8,2552.3 909,2551.6 912.2,2551.1 915.5,2550.1 918.8,2550.1 922,2549.9 925.2,2551 928.5,2552.4 931.8,2551.8 935,2553.1 937.9,2552.3 940.9,2556 943.8,2557.2 946.7,2557.8 950.6,2557.8 954.5,2557.8 958.4,2558.7 961.9,2557.2 965.4,2559.2 969,2559.5 972.5,2559.5 976,2561 979.2,2560.1 982.5,2557.7 985.7,2558.2 988,2555.2 990.4,2553 992.7,2551 995.1,2547.3 997.4,2546.2 999.6,2543.5 1001.7,2542.6 1003.9,2538.9 1006,2538.2 1008.2,2535.8 1010.3,2533.4 1012.5,2531.8 1014.6,2527.6 1016.8,2526.8 1020.1,2526.6 1023.4,2526.5 1026.7,2525.5 1030.1,2524.4 1033.4,2524.4 1036.7,2525.1 1040,2523.8 1043.4,2523.7 1046.7,2524.6 1050.1,2525 1053.5,2525.4 1056.9,2524.3 1060.2,2526.3 1063.6,2525.4 1066.9,2526 1070.3,2523.7 1073.6,2525.6 1077,2524.2 1080.3,2524.7 1083.7,2524.3 1087,2523.5 1090.2,2521.1 1093.5,2521 1096.7,2520.1 1099.9,2520.8 1103.2,2518.7 1106.4,2518.1 1109.5,2517.7 1112.6,2517.6 1115.8,2519.4 1118.9,2519.3 1122,2517.7 1124.9,2519.3 1127.8,2519.3 1130.8,2520.1 1133.7,2520.4 1137.2,2521.1 1140.6,2520.2 1144.1,2520.3 1147.5,2521 1151,2520.3 1154.2,2519.9 1157.3,2520.1 1160.4,2516.9 1163.6,2516 1166.8,2518.3 1170.1,2517.2 1173.3,2518.3 1176.5,2520.3 1179.8,2520.3 1183,2520 1186.3,2520.3 1189.7,2521.5 1193,2522.2 1196.4,2524.1 1199.7,2525.1 1202.8,2524.9 1205.8,2525.4 1208.9,2525.6 1211.9,2525.7 1215,2526 1218.4,2527.1 1221.7,2526 1225.1,2527.6 1228.4,2528.4 1231.8,2530.3 1235.2,2530.1 1238.7,2529.9 1242.1,2531.2 1245.6,2530.2 1249,2529.9 1252.2,2529.4 1255.5,2529.2 1258.8,2528.9 1262,2528.2 1265.2,2527.3 1268.3,2526.1 1271.5,2526 1274.7,2525.3 1277.6,2525.7 1280.6,2527.3 1283.5,2527.3 1286,2526.8 1288.5,2525 1291,2522 1293.5,2521.4 1296,2519 1298.5,2517.6 1301,2516.3 1303.4,2514.7 1305.9,2513.2 1308.3,2510.9 1310.7,2507.8 1313.2,2506.7 1315.6,2504.3 1318.4,2501.4 1321.3,2500.5 1324.2,2498.1 1327,2496.9 1331,2495.6 1335,2496.8 1337.9,2495.4 1340.9,2493.7 1343.8,2494.5 1346.7,2492.8 1349.7,2492.7 1352.6,2491 1355.7,2491.1 1358.8,2493.5 1361.9,2491.7 1365,2492.2 1368.7,2492.4 1372.3,2492.4 1376,2494.4 1379.6,2494.3 1383.1,2492.9 1386.7,2491.7 1389.5,2491.5 1392.2,2489.2 1395,2486.8 1397.7,2486.7 1400.5,2484.5 1403.2,2482.9 1406,2481.6 1408.8,2479.8 1411.6,2477.4 1414.3,2476.6 1417.1,2475.3 1419.9,2472.7 1422.7,2469.4 1426,2471.8 1429.2,2471 1432.5,2472.9 1435.7,2474.7 1439,2475 1442.1,2476.7 1445.1,2477.4 1448.2,2477.4 1451.2,2478.2 1454.3,2480.1 1457.3,2481.7 1460.4,2481.8 1463.6,2482.7 1466.8,2484.3 1470,2484 1473,2483.2 1475.9,2481.6 1478.8,2481 1481.8,2477.4 1485.7,2477.7 1489.6,2479.2 1493.5,2478.9 1496.4,2478.3 1499.3,2479.1 1502.3,2480 1505.2,2481.6 1508.1,2483.2 1511.1,2482.2 1514,2482.9 1516.9,2484.8 1520,2484.8 1523.1,2486.5 1526.2,2487.5 1529.3,2487.9 1532.4,2488 1535.5,2487.7 1538.6,2486.8 1541.8,2488.7 1544.9,2487.9 1548,2488.2 1550.9,2487.1 1553.8,2486.3 1556.8,2483.7 1559.7,2483.1 1562.6,2481.6 1565.6,2477.9 1568.5,2477 1571.4,2476.7 1574.5,2476.1 1577.6,2476.2 1580.8,2473.9 1583.9,2474.4 1587,2474.9 1590.2,2474.3 1593.5,2474.9 1596.8,2476 1600,2474.4 1603.2,2474.4 1606.5,2476.6 1609.8,2476.4 1613.2,2475.9 1616.5,2477.8 1619.8,2476.8 1623.1,2476.8 1626.5,2477.6 1629.8,2477.4 1632.6,2476.9 1635.4,2476.4 1638.2,2474.2 1640.9,2474.1 1643.7,2470.5 1646.5,2469.4 1649.3,2467.9 1652.4,2468.7 1655.5,2467.6 1658.7,2468.5 1661.8,2467.9 1664.9,2467.8 1668,2468.3 1671,2468.1 1674.1,2468.3 1677.1,2466.3 1680.2,2466.7 1683.2,2468 1686.3,2466.6 1689.8,2466.7 1693.3,2467.6 1696.9,2467.2 1700.4,2469.2 1703.9,2469.1 1707.1,2468 1710.4,2470.2 1713.6,2469.2 1716.8,2468.7 1720.1,2469.7 1723.3,2470.7 1726.6,2469.6 1730,2469.1 1733.3,2469.9 1736.7,2469.9 1740,2471.3 1743.4,2471.1 1746.7,2472.7 1749.8,2471.7 1752.9,2471.8 1756.1,2473.4 1759.2,2473.2 1762.3,2474.1 1765.5,2473.6 1768.8,2473.2 1772,2474 1775.3,2474.4 1778.5,2472.7 1781.8,2473 1785.1,2472.5 1788.5,2474.2 1791.8,2473.6 1795.1,2472.7 1798.4,2474.6 1801.8,2473.6 1805.1,2473.5 1808.3,2473.4 1811.6,2475.4 1814.8,2475.1 1818.1,2474.3 1821.3,2474.7 1824.6,2475.1 1827.7,2473.6 1830.8,2475.1 1834,2475.1 1837.1,2475.7 1840.2,2473.5 1843.5,2475.1 1846.9,2475.2 1850.2,2476.3 1853.6,2475.4 1856.9,2476.4 1860.3,2477.3 1863.6,2476.2 1866.7,2476.3 1869.8,2476.9 1873,2474.5 1876.1,2476.5 1879.2,2474.6 1882.3,2475.1 1885.3,2474.9 1888.4,2476.4 1891.4,2476 1894.5,2476.7 1897.5,2475.4 1900.6,2477.5 1903.9,2476.6 1907.3,2475.6 1910.6,2473.7 1914,2473.1 1917.3,2472.8 1920.7,2471.2 1924,2472.6 1926.9,2470.4 1929.8,2470.8 1932.8,2468 1935.7,2468.2 1938.6,2467.6 1941.5,2466.3 1944.8,2465.8 1948,2464.7 1951.2,2465.7 1954.5,2465.5 1957.8,2466.8 1961,2466.8 1964.3,2467.1 1967.7,2467.4 1971,2465.7 1974.3,2465.7 1977.6,2466.6 1981,2466.1 1984.3,2466.7 1987.4,2466.5 1990.6,2464.4 1993.7,2464.1 1996.9,2462.4 2000,2460.9 2003.4,2462.6 2006.7,2460.8 2010.1,2462.5 2013.4,2461.7 2016.8,2462.1 2020.1,2460.9 2023.5,2462.4 2026.7,2463 2029.9,2461.6 2033.1,2462.6 2036.4,2463.3 2039.6,2463.2 2042.8,2464.1 2046,2464.1 2048.9,2462 2051.8,2461.5 2054.7,2460.4 2057.7,2458.3 2060.6,2457.3 2063.5,2456.1 2066.4,2454.3 2069.5,2453.2 2072.6,2453.7 2075.7,2454.4 2078.8,2454 2081.9,2452.2 2085,2452.9 2088.1,2452.7 2091.3,2452.1 2094.4,2450.7 2097.6,2451.5 2100.7,2451.1 2103.9,2450.3 2107,2450.8 2110,2450.6 2112.9,2450 2115.9,2451.3 2118.9,2453.1 2121.8,2452.3 2124.8,2455.1 2128,2453.2 2131.1,2452.1 2134.3,2449.4 2137.5,2447.7 2140.7,2448.5 2143.8,2446.3 2147,2445" fill="none" stroke="#D95319" stroke-width="3.9" stroke-linejoin="round" stroke-dasharray="38 19"/>
<rect x="1517" y="1987" width="592" height="161" fill="#fff" stroke="#262626" stroke-width="3.8"/>
<path d="M1581.6 2016.6l31.8 31.8M1581.6 2048.4l31.8 -31.8" stroke="#0072BD" stroke-width="5" fill="none"/>
<path d="M1534 2103.6H1648.5" stroke="#D95319" stroke-width="4.2" stroke-dasharray="44.8 25.3" fill="none"/>
<g font-family="'Liberation Sans', Arial, Helvetica, sans-serif" font-size="52.5px" fill="#000" stroke="#000" stroke-width="0.7" stroke-linejoin="round">
<text x="1678.5" y="2052.3">Delay (ms)</text>
<text x="1678.5" y="2124.4">Packet Loss Rate</text>
</g>
<text font-family="'Liberation Serif', 'Times New Roman', serif" font-size="85px" fill="#000" y="3715.5"><tspan x="1152">(</tspan><tspan x="1179.5" font-size="87px" font-weight="bold" stroke="#fff" stroke-width="1.6" paint-order="fill stroke">b</tspan><tspan x="1229.5">)</tspan></text>
</g>
</svg></body></html>
